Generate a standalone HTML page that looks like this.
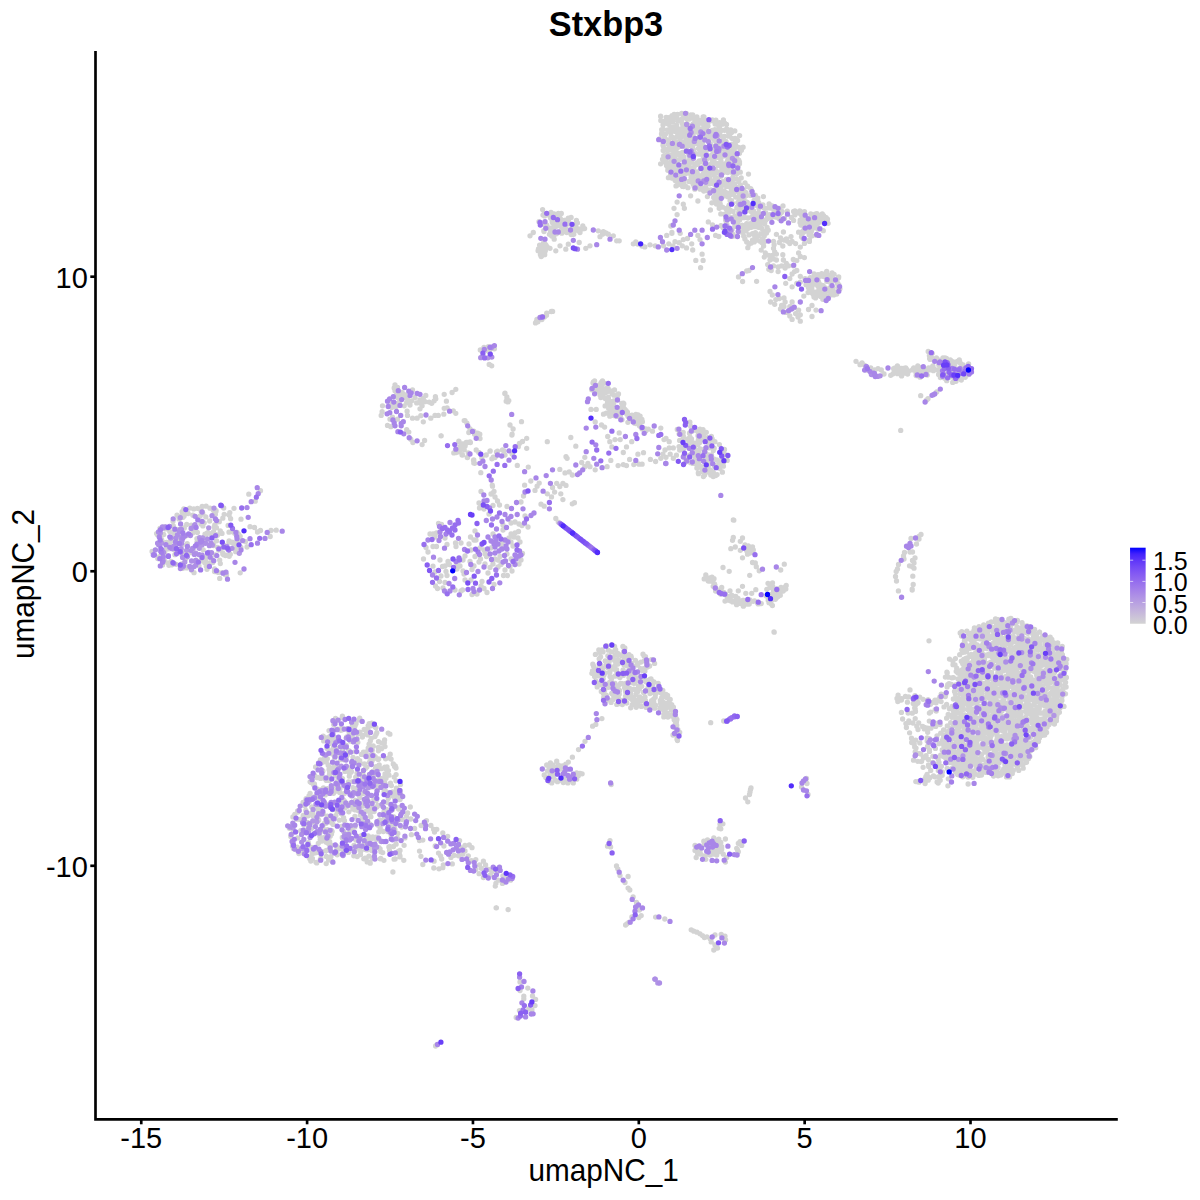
<!DOCTYPE html>
<html><head><meta charset="utf-8"><title>Stxbp3</title>
<style>
html,body{margin:0;padding:0;background:#fff;}
svg{display:block;font-family:"Liberation Sans",sans-serif;}
</style></head>
<body>
<svg width="1200" height="1200" viewBox="0 0 1200 1200">
<rect width="1200" height="1200" fill="#fff"/>
<defs><linearGradient id="lg" x1="0" y1="0" x2="0" y2="1"><stop offset="0.000" stop-color="#0000ff"/><stop offset="0.083" stop-color="#4322fc"/><stop offset="0.167" stop-color="#5e36f9"/><stop offset="0.250" stop-color="#7248f6"/><stop offset="0.333" stop-color="#8258f3"/><stop offset="0.417" stop-color="#9068ef"/><stop offset="0.500" stop-color="#9d77ec"/><stop offset="0.583" stop-color="#a886e8"/><stop offset="0.667" stop-color="#b296e4"/><stop offset="0.750" stop-color="#bba5e0"/><stop offset="0.833" stop-color="#c4b4dc"/><stop offset="0.917" stop-color="#ccc4d8"/><stop offset="1.000" stop-color="#d3d3d3"/></linearGradient></defs>
<g fill="none" stroke-width="5.3" stroke-linecap="round">
<path stroke="#d3d3d3" d="M672.0 115.6h.01M674.1 114.5h.01M677.5 114.3h.01M681.7 113.5h.01M686.5 113.6h.01M690.9 114.9h.01M692.7 114.9h.01M660.6 116.2h.01M666.1 117.3h.01M668.2 117.6h.01M672.0 119.3h.01M674.8 116.4h.01M678.8 120.7h.01M683.2 116.4h.01M685.6 115.2h.01M689.4 119.0h.01M691.3 117.8h.01M696.9 116.8h.01M703.1 117.0h.01M704.0 116.9h.01M660.8 120.5h.01M663.9 121.5h.01M665.9 120.7h.01M671.6 119.4h.01M676.9 118.0h.01M678.0 121.1h.01M681.4 120.3h.01M682.0 118.9h.01M687.0 118.9h.01M692.4 117.6h.01M694.9 120.5h.01M699.7 120.5h.01M702.4 120.2h.01M705.7 120.4h.01M710.0 121.0h.01M714.7 121.9h.01M715.9 120.2h.01M719.7 122.6h.01M663.7 122.7h.01M667.2 123.5h.01M668.8 122.3h.01M672.9 121.6h.01M676.6 125.5h.01M680.5 121.0h.01M682.0 123.1h.01M686.5 124.2h.01M687.3 124.2h.01M693.1 123.9h.01M697.7 125.0h.01M698.8 123.5h.01M702.6 120.8h.01M706.9 123.3h.01M712.3 119.9h.01M716.6 122.5h.01M719.8 125.5h.01M723.4 120.0h.01M724.5 123.0h.01M663.0 125.0h.01M669.1 124.5h.01M670.7 127.2h.01M673.8 126.6h.01M676.3 126.7h.01M682.8 125.5h.01M686.3 126.4h.01M688.7 125.5h.01M690.8 125.8h.01M695.5 125.6h.01M698.5 128.4h.01M702.6 123.4h.01M704.4 126.2h.01M708.0 125.9h.01M715.1 124.1h.01M718.7 125.4h.01M719.4 126.4h.01M722.3 124.2h.01M726.5 124.4h.01M663.1 129.1h.01M661.7 129.6h.01M667.7 129.9h.01M671.8 131.2h.01M675.9 129.4h.01M679.2 129.2h.01M683.8 129.2h.01M686.9 128.3h.01M692.2 128.0h.01M695.1 128.4h.01M699.0 130.0h.01M702.4 128.6h.01M704.5 128.9h.01M706.8 130.7h.01M712.3 130.4h.01M714.9 129.6h.01M717.4 131.3h.01M722.2 130.3h.01M727.3 129.5h.01M725.7 129.7h.01M730.8 129.9h.01M661.9 132.2h.01M668.4 130.5h.01M670.7 132.7h.01M674.4 131.3h.01M679.3 130.1h.01M681.5 133.4h.01M684.0 132.6h.01M687.5 132.0h.01M691.9 132.3h.01M694.5 132.3h.01M698.9 132.9h.01M703.5 132.5h.01M703.8 131.9h.01M710.4 131.4h.01M714.1 134.0h.01M717.8 129.9h.01M720.2 131.6h.01M724.6 130.3h.01M728.5 131.1h.01M731.1 132.4h.01M734.8 130.9h.01M661.5 134.0h.01M665.7 133.8h.01M671.1 136.2h.01M672.5 137.4h.01M677.7 135.1h.01M678.8 133.3h.01M683.8 135.7h.01M686.1 136.9h.01M689.9 137.3h.01M693.3 136.8h.01M699.2 137.2h.01M700.9 135.2h.01M705.6 135.0h.01M708.5 135.0h.01M708.0 134.8h.01M712.0 135.2h.01M719.4 134.4h.01M720.2 135.4h.01M724.5 136.3h.01M728.7 132.8h.01M731.5 132.6h.01M731.9 138.3h.01M659.5 138.8h.01M664.5 137.4h.01M667.3 139.9h.01M673.5 137.6h.01M677.1 136.8h.01M679.9 139.0h.01M680.8 137.5h.01M685.9 139.4h.01M688.2 134.8h.01M691.4 139.9h.01M695.9 139.1h.01M699.4 141.1h.01M703.0 139.0h.01M706.7 138.9h.01M711.1 137.0h.01M711.7 138.2h.01M715.8 141.7h.01M718.1 136.5h.01M723.4 139.7h.01M728.5 136.2h.01M729.7 135.7h.01M735.2 138.4h.01M739.6 135.6h.01M663.1 142.7h.01M665.3 139.5h.01M668.8 141.3h.01M674.3 140.5h.01M676.1 143.2h.01M681.1 142.1h.01M683.5 143.1h.01M683.5 142.2h.01M689.2 141.5h.01M693.4 140.3h.01M696.5 140.2h.01M701.5 141.0h.01M702.4 142.3h.01M707.6 139.9h.01M710.3 143.6h.01M714.7 140.3h.01M718.5 142.2h.01M722.4 141.2h.01M725.9 141.3h.01M726.5 143.1h.01M735.2 141.3h.01M737.6 140.5h.01M663.0 145.3h.01M668.5 144.4h.01M673.3 146.8h.01M675.5 142.2h.01M676.7 144.6h.01M679.6 146.5h.01M685.8 142.4h.01M691.1 145.5h.01M692.9 143.7h.01M694.7 143.7h.01M698.9 144.5h.01M700.3 142.1h.01M702.7 144.9h.01M709.4 145.8h.01M713.9 146.6h.01M716.7 142.7h.01M718.5 146.2h.01M723.4 143.4h.01M725.8 144.1h.01M731.4 144.3h.01M731.9 144.4h.01M735.8 145.3h.01M663.3 145.9h.01M665.2 149.1h.01M669.5 148.4h.01M673.9 146.3h.01M677.7 147.4h.01M677.4 144.2h.01M684.2 145.2h.01M686.5 148.1h.01M687.6 146.0h.01M692.7 147.8h.01M698.5 148.5h.01M700.2 148.0h.01M702.6 146.4h.01M706.8 149.2h.01M711.8 149.7h.01M715.7 148.2h.01M718.8 147.9h.01M721.4 148.5h.01M724.1 147.0h.01M729.9 147.4h.01M732.2 147.6h.01M736.2 146.3h.01M739.3 147.6h.01M743.1 147.2h.01M663.2 150.5h.01M668.0 150.2h.01M671.8 150.3h.01M675.9 150.3h.01M675.8 152.3h.01M682.6 152.4h.01M686.3 148.5h.01M687.1 151.4h.01M692.0 152.6h.01M693.4 149.7h.01M700.2 151.7h.01M701.9 151.8h.01M705.2 149.3h.01M708.3 149.5h.01M713.2 149.1h.01M717.0 150.9h.01M718.5 151.0h.01M725.3 151.5h.01M728.4 151.0h.01M732.1 152.4h.01M734.3 149.7h.01M740.2 149.7h.01M741.4 150.3h.01M663.7 155.8h.01M666.6 154.7h.01M669.0 155.1h.01M673.0 154.2h.01M676.8 153.0h.01M677.9 153.2h.01M681.6 152.9h.01M688.5 153.4h.01M689.8 157.5h.01M693.8 152.1h.01M699.5 154.2h.01M702.4 153.3h.01M704.5 153.5h.01M706.2 154.2h.01M711.4 155.4h.01M714.3 154.0h.01M716.7 152.6h.01M721.0 153.6h.01M725.5 154.0h.01M728.9 152.2h.01M731.1 152.2h.01M732.8 154.6h.01M739.5 153.3h.01M664.0 157.0h.01M664.5 155.6h.01M669.7 155.6h.01M674.9 157.5h.01M679.7 155.1h.01M682.6 154.8h.01M684.0 156.8h.01M689.6 156.8h.01M693.1 154.9h.01M693.3 157.4h.01M696.8 153.9h.01M703.4 156.6h.01M707.9 155.8h.01M709.0 157.4h.01M712.2 154.7h.01M717.5 154.8h.01M719.6 154.9h.01M723.0 156.2h.01M727.5 156.7h.01M730.6 156.8h.01M732.6 155.1h.01M736.4 155.9h.01M662.5 159.3h.01M666.2 159.4h.01M671.6 160.1h.01M673.5 157.9h.01M678.0 160.8h.01M679.4 159.7h.01M682.9 158.4h.01M684.1 159.5h.01M689.0 160.3h.01M693.2 158.0h.01M699.2 160.9h.01M701.3 161.7h.01M702.7 159.7h.01M706.5 159.6h.01M712.2 159.2h.01M714.0 159.6h.01M718.6 157.6h.01M720.9 160.6h.01M727.5 161.0h.01M728.4 162.4h.01M732.9 158.9h.01M735.7 157.4h.01M738.8 160.2h.01M663.9 161.8h.01M666.8 162.3h.01M671.0 163.5h.01M674.8 162.0h.01M677.2 164.0h.01M682.7 165.9h.01M685.5 162.5h.01M689.0 160.6h.01M691.5 162.1h.01M696.7 162.9h.01M697.1 162.6h.01M701.4 161.8h.01M704.4 163.3h.01M709.7 164.7h.01M712.1 160.2h.01M715.3 162.9h.01M717.9 163.7h.01M723.4 164.0h.01M725.3 163.7h.01M729.1 160.7h.01M734.3 162.6h.01M738.0 159.6h.01M739.5 161.9h.01M660.6 163.8h.01M666.5 165.4h.01M669.2 165.0h.01M673.6 166.0h.01M675.0 166.3h.01M679.6 166.6h.01M682.3 165.5h.01M686.8 166.3h.01M689.2 164.5h.01M694.8 165.4h.01M697.8 164.3h.01M702.4 167.4h.01M704.0 166.9h.01M707.7 165.7h.01M711.2 166.7h.01M713.4 164.2h.01M718.4 165.3h.01M721.8 164.9h.01M725.4 165.7h.01M728.7 166.2h.01M732.4 164.5h.01M735.9 164.9h.01M739.5 163.7h.01M667.9 167.9h.01M670.8 167.3h.01M674.3 169.6h.01M679.3 169.2h.01M679.8 168.7h.01M685.7 167.4h.01M689.1 167.6h.01M693.6 169.5h.01M693.9 167.4h.01M700.5 168.5h.01M704.4 169.1h.01M706.7 167.7h.01M709.5 167.8h.01M710.6 167.9h.01M715.2 169.5h.01M721.8 168.4h.01M723.0 169.7h.01M727.0 168.3h.01M730.0 168.6h.01M735.0 171.4h.01M738.1 165.9h.01M667.8 170.3h.01M673.1 173.6h.01M676.8 172.2h.01M681.3 170.7h.01M683.5 170.1h.01M685.7 172.2h.01M690.6 171.5h.01M695.4 173.3h.01M697.0 171.8h.01M704.0 170.3h.01M705.7 172.8h.01M707.8 171.7h.01M711.7 171.6h.01M716.7 171.9h.01M718.3 172.1h.01M723.0 170.0h.01M724.8 170.3h.01M730.7 171.2h.01M730.8 169.8h.01M735.6 170.9h.01M740.3 172.2h.01M670.6 174.1h.01M673.3 173.3h.01M678.6 171.7h.01M681.3 175.2h.01M685.5 173.7h.01M689.3 173.2h.01M692.9 173.9h.01M697.3 173.3h.01M698.8 176.1h.01M702.7 174.5h.01M707.1 173.5h.01M710.1 172.9h.01M714.3 175.6h.01M716.4 171.7h.01M719.3 173.4h.01M723.4 172.4h.01M727.7 172.6h.01M732.6 173.1h.01M733.2 174.3h.01M737.0 173.6h.01M668.4 177.7h.01M672.2 178.2h.01M677.1 179.2h.01M680.0 177.8h.01M681.5 177.9h.01M683.9 179.2h.01M691.1 177.5h.01M693.9 178.3h.01M698.2 176.7h.01M702.3 178.5h.01M705.1 177.5h.01M709.5 177.2h.01M713.0 180.6h.01M715.6 178.0h.01M720.2 176.4h.01M721.2 176.0h.01M726.5 179.5h.01M728.1 179.4h.01M731.7 178.7h.01M736.1 178.6h.01M741.2 177.9h.01M675.2 180.4h.01M678.5 180.3h.01M683.7 179.7h.01M683.6 182.8h.01M689.0 181.5h.01M691.2 180.6h.01M694.8 181.2h.01M698.5 181.5h.01M702.9 180.4h.01M707.4 179.6h.01M709.2 181.8h.01M717.5 180.5h.01M715.7 183.5h.01M718.9 184.3h.01M723.0 181.4h.01M726.1 180.7h.01M730.8 182.5h.01M734.2 178.8h.01M738.9 181.7h.01M676.7 185.5h.01M678.9 183.4h.01M681.4 185.0h.01M685.4 186.0h.01M693.0 184.1h.01M693.6 184.7h.01M697.8 184.9h.01M699.3 183.7h.01M703.6 181.5h.01M707.4 182.6h.01M713.4 181.5h.01M713.1 183.5h.01M718.3 184.6h.01M721.8 183.5h.01M725.3 184.1h.01M726.7 183.5h.01M732.1 183.4h.01M734.6 183.8h.01M740.3 185.1h.01M676.0 185.9h.01M682.6 186.4h.01M683.6 186.6h.01M687.9 187.7h.01M694.2 186.6h.01M695.7 186.5h.01M699.8 186.5h.01M701.4 188.1h.01M705.7 186.9h.01M709.9 183.8h.01M714.9 185.1h.01M716.2 188.8h.01M721.5 186.0h.01M720.5 188.2h.01M726.5 186.3h.01M729.4 186.8h.01M734.3 187.4h.01M736.5 187.5h.01M694.8 189.2h.01M700.2 189.2h.01M702.5 189.4h.01M707.7 190.8h.01M711.0 189.8h.01M714.8 191.5h.01M719.3 189.8h.01M724.1 191.0h.01M724.1 190.8h.01M729.2 193.1h.01M731.5 190.9h.01M703.8 191.0h.01M705.8 190.7h.01M708.7 190.1h.01M715.1 193.0h.01M718.1 192.5h.01M721.2 191.6h.01M721.4 193.5h.01M725.7 192.5h.01M731.3 191.7h.01M707.4 196.6h.01M713.7 197.5h.01M716.4 193.2h.01M718.3 195.9h.01M718.7 196.0h.01M726.7 195.9h.01M727.7 196.7h.01M714.8 198.4h.01M715.5 199.9h.01M722.4 196.7h.01M748.5 174.1h.01M745.0 182.8h.01M741.0 187.6h.01M747.4 186.7h.01M747.6 186.2h.01M734.9 191.0h.01M740.2 189.5h.01M743.6 190.3h.01M750.7 188.6h.01M751.5 190.2h.01M730.4 193.3h.01M733.7 194.5h.01M738.4 191.8h.01M742.7 192.8h.01M745.6 192.4h.01M746.0 192.6h.01M755.2 195.1h.01M715.8 195.4h.01M721.9 197.0h.01M723.1 195.9h.01M729.2 195.7h.01M729.9 195.1h.01M735.7 197.1h.01M739.6 195.2h.01M741.1 195.9h.01M746.6 195.5h.01M750.7 195.4h.01M757.8 198.1h.01M763.4 196.6h.01M711.9 202.8h.01M718.5 200.0h.01M720.3 199.8h.01M730.1 200.4h.01M739.4 200.2h.01M744.0 198.9h.01M747.3 202.3h.01M754.1 200.5h.01M757.8 200.4h.01M716.5 204.1h.01M720.2 203.9h.01M722.6 207.1h.01M729.1 205.2h.01M731.5 200.7h.01M732.6 203.3h.01M737.9 202.3h.01M743.6 205.7h.01M747.2 202.5h.01M754.9 203.2h.01M758.7 202.7h.01M762.9 204.8h.01M720.0 205.4h.01M726.0 208.7h.01M728.7 206.3h.01M737.3 206.9h.01M738.3 207.4h.01M741.9 208.2h.01M744.2 206.4h.01M749.7 205.8h.01M756.1 205.3h.01M760.4 206.5h.01M762.6 205.9h.01M719.2 208.3h.01M726.5 209.4h.01M727.1 210.9h.01M730.5 210.5h.01M736.8 207.8h.01M742.2 210.3h.01M748.0 207.8h.01M750.1 208.6h.01M752.9 212.8h.01M759.0 208.4h.01M764.2 208.1h.01M720.8 213.9h.01M725.0 214.6h.01M728.8 212.3h.01M733.1 211.4h.01M739.1 215.3h.01M738.7 212.5h.01M745.4 211.7h.01M750.7 211.3h.01M753.6 210.9h.01M756.2 213.6h.01M758.6 212.8h.01M765.8 212.9h.01M724.6 214.1h.01M726.6 217.4h.01M730.8 217.3h.01M734.9 216.0h.01M738.9 217.4h.01M744.5 217.2h.01M744.7 217.3h.01M751.9 216.6h.01M753.9 217.5h.01M757.3 217.3h.01M767.7 215.9h.01M725.6 220.0h.01M728.1 219.3h.01M735.1 219.8h.01M737.9 218.4h.01M739.6 220.1h.01M743.8 217.7h.01M747.9 218.0h.01M753.1 220.2h.01M756.6 219.9h.01M761.8 220.2h.01M765.7 220.2h.01M726.3 222.8h.01M726.9 224.2h.01M735.2 223.9h.01M737.6 222.3h.01M742.0 225.3h.01M746.7 223.7h.01M749.5 223.9h.01M752.7 224.6h.01M763.0 223.2h.01M720.9 225.7h.01M725.3 228.1h.01M726.7 227.0h.01M734.7 226.6h.01M737.5 225.7h.01M742.5 225.3h.01M723.0 227.7h.01M728.1 228.8h.01M732.0 229.7h.01M738.6 228.6h.01M726.0 233.1h.01M730.2 231.8h.01M732.7 234.2h.01M741.4 232.1h.01M732.7 236.2h.01M734.7 235.8h.01M776.5 209.5h.01M815.1 214.1h.01M814.3 219.1h.01M809.7 221.8h.01M824.7 219.5h.01M815.4 225.8h.01M828.1 223.3h.01M777.7 214.5h.01M808.5 220.7h.01M770.7 217.8h.01M820.4 221.9h.01M791.4 217.4h.01M770.1 208.0h.01M823.6 216.8h.01M781.9 211.5h.01M799.8 210.8h.01M767.7 218.4h.01M807.3 218.6h.01M822.7 216.2h.01M818.6 218.9h.01M823.1 220.1h.01M803.9 216.7h.01M801.4 212.4h.01M827.5 219.2h.01M802.5 222.0h.01M776.4 210.1h.01M777.4 209.6h.01M780.1 213.3h.01M806.2 222.0h.01M794.8 214.9h.01M817.7 217.8h.01M800.2 220.2h.01M770.6 208.1h.01M808.5 222.6h.01M787.3 211.2h.01M820.6 215.2h.01M774.1 210.9h.01M819.8 218.4h.01M817.0 224.0h.01M824.1 219.6h.01M810.7 217.7h.01M779.6 208.3h.01M774.5 209.3h.01M778.9 218.4h.01M819.0 215.8h.01M798.7 213.1h.01M801.9 212.0h.01M769.9 214.7h.01M810.8 213.9h.01M783.0 206.0h.01M776.3 208.3h.01M824.9 219.9h.01M811.9 218.6h.01M777.2 210.1h.01M772.1 205.9h.01M816.9 213.6h.01M801.7 215.4h.01M826.3 219.1h.01M817.9 223.2h.01M804.5 211.6h.01M823.6 215.7h.01M822.3 213.8h.01M771.8 217.2h.01M802.8 217.2h.01M794.9 211.0h.01M806.8 219.5h.01M779.9 210.4h.01M768.3 207.9h.01M826.2 217.7h.01M816.3 224.3h.01M800.0 222.6h.01M767.9 216.5h.01M818.6 222.5h.01M779.9 214.2h.01M812.7 223.0h.01M775.6 217.1h.01M769.1 203.9h.01M793.6 211.5h.01M814.0 221.2h.01M767.1 218.4h.01M793.6 220.4h.01M815.9 223.0h.01M781.5 212.5h.01M816.2 220.5h.01M784.5 218.5h.01M802.0 233.7h.01M809.0 241.0h.01M804.2 229.1h.01M802.6 231.4h.01M819.9 228.5h.01M805.1 228.3h.01M816.8 235.4h.01M809.2 226.6h.01M818.0 228.4h.01M806.4 231.1h.01M809.4 241.4h.01M818.0 229.0h.01M801.5 236.7h.01M802.9 225.0h.01M814.7 227.9h.01M809.4 239.8h.01M809.1 234.7h.01M806.3 230.7h.01M803.5 232.2h.01M809.5 225.8h.01M801.6 233.9h.01M800.8 225.1h.01M802.9 238.6h.01M805.3 226.2h.01M804.4 243.4h.01M811.5 231.0h.01M813.1 226.9h.01M798.6 232.2h.01M812.2 235.8h.01M823.3 230.7h.01M827.6 296.8h.01M821.7 275.2h.01M833.1 287.8h.01M820.4 290.5h.01M823.1 285.7h.01M823.7 299.4h.01M813.6 294.9h.01M817.4 282.8h.01M819.3 275.8h.01M815.1 284.1h.01M831.7 275.2h.01M824.8 287.7h.01M811.8 287.8h.01M820.6 296.4h.01M815.5 297.9h.01M816.2 279.4h.01M837.5 283.2h.01M836.7 294.1h.01M824.4 274.6h.01M829.8 287.9h.01M838.5 287.4h.01M831.0 278.5h.01M819.1 286.1h.01M808.3 292.3h.01M822.9 290.3h.01M806.0 284.7h.01M831.6 289.6h.01M814.2 283.5h.01M813.2 282.8h.01M838.6 277.8h.01M818.8 290.0h.01M810.3 277.6h.01M810.6 282.8h.01M808.5 287.7h.01M826.8 281.3h.01M821.7 276.2h.01M811.5 281.7h.01M833.7 294.9h.01M828.9 291.2h.01M812.8 293.0h.01M815.0 294.5h.01M827.2 276.9h.01M825.2 291.8h.01M812.0 291.0h.01M814.1 278.8h.01M817.9 286.0h.01M820.9 284.8h.01M828.5 291.0h.01M834.7 291.9h.01M823.7 276.6h.01M826.2 272.7h.01M831.0 282.2h.01M814.0 293.8h.01M809.1 287.9h.01M831.6 294.0h.01M814.1 273.9h.01M826.3 275.2h.01M827.0 274.3h.01M814.5 278.6h.01M825.2 291.8h.01M832.2 277.5h.01M829.1 290.8h.01M838.7 277.0h.01M829.9 278.6h.01M813.9 293.1h.01M834.8 280.0h.01M832.1 272.8h.01M824.5 275.5h.01M837.8 284.3h.01M810.0 285.6h.01M818.9 291.5h.01M834.1 274.3h.01M819.8 284.9h.01M830.1 277.5h.01M823.1 291.4h.01M819.3 283.9h.01M839.9 288.8h.01M822.3 289.3h.01M822.7 288.8h.01M808.1 292.5h.01M821.7 273.7h.01M807.5 279.4h.01M825.1 294.9h.01M812.0 292.9h.01M818.0 274.7h.01M815.1 292.2h.01M838.8 284.6h.01M827.8 279.4h.01M831.9 292.0h.01M818.0 278.3h.01M822.8 299.3h.01M837.0 280.4h.01M832.9 280.9h.01M821.0 294.5h.01M826.7 271.5h.01M827.9 296.7h.01M817.6 295.3h.01M815.4 281.6h.01M818.6 282.0h.01M814.0 297.0h.01M828.9 296.4h.01M814.6 297.3h.01M833.3 294.3h.01M829.7 282.0h.01M810.5 286.5h.01M743.7 227.9h.01M746.7 225.0h.01M750.2 223.8h.01M753.7 223.2h.01M757.7 222.7h.01M761.2 222.1h.01M764.7 223.8h.01M767.1 227.3h.01M768.2 230.2h.01M766.5 233.1h.01M764.2 236.1h.01M762.4 239.0h.01M760.1 241.3h.01M757.2 240.1h.01M754.2 241.9h.01M751.3 243.1h.01M749.0 244.2h.01M746.7 241.9h.01M744.9 239.0h.01M743.7 236.1h.01M743.2 232.0h.01M746.1 230.8h.01M747.8 228.5h.01M751.3 227.3h.01M754.8 226.7h.01M758.3 227.3h.01M761.8 228.5h.01M763.6 231.4h.01M760.7 233.7h.01M758.3 236.1h.01M754.8 236.6h.01M752.5 233.7h.01M755.4 232.6h.01M749.0 234.9h.01M760.1 225.0h.01M752.5 240.1h.01M765.3 241.3h.01M747.8 247.7h.01M761.8 242.5h.01M763.6 246.0h.01M761.2 250.1h.01M765.3 253.0h.01M768.8 255.3h.01M764.2 257.1h.01M770.0 260.0h.01M773.5 258.8h.01M776.4 260.0h.01M767.7 264.6h.01M771.2 270.5h.01M768.8 269.3h.01M773.5 265.8h.01M778.1 267.0h.01M781.6 265.8h.01M773.5 241.3h.01M774.1 244.8h.01M773.5 248.3h.01M774.7 251.8h.01M776.4 254.1h.01M772.3 255.3h.01M776.4 234.3h.01M783.4 232.0h.01M780.5 237.8h.01M784.0 240.1h.01M779.3 242.5h.01M782.8 246.0h.01M787.5 241.3h.01M791.0 236.6h.01M792.1 241.3h.01M795.6 243.6h.01M789.8 243.6h.01M786.3 239.0h.01M800.3 247.1h.01M798.6 253.0h.01M800.3 256.5h.01M804.4 257.6h.01M793.3 259.4h.01M796.8 260.6h.01M782.8 254.7h.01M783.4 260.0h.01M786.3 263.5h.01M788.6 265.8h.01M785.1 268.1h.01M778.1 271.6h.01M793.3 265.8h.01M796.8 270.5h.01M792.1 274.0h.01M794.5 271.6h.01M789.8 278.6h.01M785.7 283.3h.01M792.1 286.8h.01M800.3 276.3h.01M805.0 278.6h.01M800.3 282.1h.01M796.8 283.3h.01M803.8 296.1h.01M770.0 291.5h.01M772.3 295.0h.01M770.6 302.0h.01M774.7 304.3h.01M775.8 299.6h.01M779.3 298.5h.01M784.0 297.9h.01M785.1 302.0h.01M781.6 305.5h.01M780.5 309.0h.01M786.3 312.4h.01M789.8 315.9h.01M792.1 319.4h.01M795.6 313.6h.01M798.6 310.1h.01M800.3 314.8h.01M800.3 321.2h.01M794.5 307.8h.01M792.1 302.0h.01M784.0 306.6h.01M789.8 306.6h.01M798.0 317.1h.01M808.5 309.5h.01M812.0 305.5h.01M816.0 310.1h.01M812.0 316.5h.01M746.7 271.0h.01M749.0 270.5h.01M738.5 276.9h.01M742.6 281.5h.01M756.6 281.3h.01M677.1 202.1h.01M674.0 208.3h.01M683.3 204.2h.01M684.4 208.3h.01M677.1 214.6h.01M670.8 226.0h.01M690.6 195.8h.01M697.9 201.0h.01M710.4 210.0h.01M708.3 221.9h.01M712.5 225.0h.01M680.2 233.3h.01M671.9 232.3h.01M633.3 243.8h.01M644.8 246.9h.01M650.0 244.8h.01M655.2 245.8h.01M668.8 243.8h.01M675.0 241.7h.01M671.9 233.3h.01M666.7 235.4h.01M683.3 239.6h.01M687.5 238.5h.01M691.7 243.8h.01M686.5 247.9h.01M692.7 250.0h.01M697.9 235.4h.01M700.0 239.6h.01M702.1 254.2h.01M695.8 260.4h.01M703.1 260.4h.01M700.6 267.7h.01M715.6 235.4h.01M718.8 236.5h.01M679.2 242.7h.01M682.3 245.8h.01M663.5 245.8h.01M672.9 245.8h.01M579.1 230.9h.01M573.8 226.7h.01M563.4 222.4h.01M554.2 216.6h.01M560.3 218.4h.01M566.8 232.6h.01M551.9 231.7h.01M577.4 223.0h.01M555.8 218.8h.01M566.1 220.1h.01M563.0 229.9h.01M574.2 231.5h.01M557.9 218.0h.01M551.7 217.8h.01M562.8 228.1h.01M565.3 231.3h.01M573.6 232.9h.01M539.0 221.7h.01M561.8 233.2h.01M576.4 220.3h.01M557.4 222.9h.01M553.7 227.4h.01M561.3 213.5h.01M565.9 226.9h.01M550.5 230.9h.01M560.3 226.0h.01M549.3 215.6h.01M551.9 214.3h.01M552.8 223.3h.01M546.8 225.1h.01M571.2 234.5h.01M554.0 227.5h.01M578.5 229.0h.01M556.5 221.7h.01M573.8 234.3h.01M575.9 224.2h.01M564.3 220.4h.01M552.2 222.0h.01M555.1 222.9h.01M552.3 218.9h.01M554.2 220.9h.01M550.6 217.9h.01M544.5 215.9h.01M573.5 232.5h.01M558.4 213.4h.01M574.5 224.9h.01M542.6 209.6h.01M544.0 213.9h.01M554.1 234.8h.01M549.4 234.3h.01M545.0 214.7h.01M563.9 227.2h.01M566.1 220.6h.01M557.4 232.4h.01M543.0 215.1h.01M576.7 229.6h.01M556.3 226.3h.01M582.8 226.0h.01M582.2 228.5h.01M571.1 217.4h.01M544.0 231.5h.01M575.5 223.8h.01M551.0 212.3h.01M549.3 228.0h.01M568.3 218.1h.01M565.3 229.4h.01M556.4 233.8h.01M545.9 227.7h.01M568.5 220.7h.01M580.0 232.5h.01M571.7 229.6h.01M543.8 230.7h.01M554.2 213.8h.01M549.5 234.3h.01M584.6 228.6h.01M581.9 229.1h.01M561.4 230.2h.01M570.5 224.1h.01M560.1 223.0h.01M575.5 226.0h.01M544.4 224.4h.01M546.7 214.1h.01M583.0 228.4h.01M563.5 231.0h.01M551.7 236.1h.01M538.1 250.7h.01M543.1 244.7h.01M544.7 252.6h.01M538.5 249.0h.01M541.1 251.0h.01M542.2 255.6h.01M540.0 245.5h.01M540.7 255.3h.01M541.2 256.5h.01M545.0 243.9h.01M545.5 246.8h.01M541.6 252.3h.01M544.2 252.1h.01M545.3 250.7h.01M547.0 246.6h.01M539.6 245.1h.01M546.0 245.2h.01M543.7 250.8h.01M543.4 243.2h.01M542.2 246.3h.01M540.4 254.5h.01M538.9 249.7h.01M541.4 253.7h.01M544.7 254.7h.01M530.0 235.8h.01M533.3 232.5h.01M554.2 239.2h.01M579.2 242.5h.01M568.3 244.2h.01M560.0 245.8h.01M555.8 250.8h.01M565.8 249.2h.01M550.0 248.3h.01M585.8 248.3h.01M590.0 245.8h.01M598.3 230.8h.01M603.3 231.7h.01M608.3 234.2h.01M613.3 235.8h.01M600.0 236.7h.01M616.7 240.8h.01M619.2 240.8h.01M605.8 233.0h.01M602.5 234.2h.01M635.8 242.0h.01M642.0 246.0h.01M637.7 244.0h.01M544.4 317.0h.01M536.3 321.7h.01M541.9 319.5h.01M541.1 319.4h.01M551.3 311.5h.01M541.2 319.0h.01M546.7 313.2h.01M537.9 321.8h.01M546.5 315.3h.01M544.1 317.1h.01M537.3 321.7h.01M536.9 319.4h.01M542.1 316.7h.01M535.5 322.9h.01M541.9 317.5h.01M552.6 311.4h.01M856.0 361.3h.01M860.0 364.7h.01M864.7 365.3h.01M870.7 368.0h.01M874.7 370.0h.01M878.0 368.7h.01M881.3 370.0h.01M884.0 374.0h.01M890.7 375.3h.01M866.7 370.0h.01M862.0 362.9h.01M872.7 370.7h.01M907.6 374.0h.01M901.6 375.9h.01M908.4 371.6h.01M900.3 370.8h.01M897.6 371.0h.01M894.8 368.6h.01M900.1 370.1h.01M894.1 371.3h.01M905.0 373.1h.01M900.3 368.3h.01M900.2 369.6h.01M898.2 373.2h.01M899.7 373.4h.01M899.1 369.4h.01M897.4 373.7h.01M894.5 368.1h.01M902.9 372.8h.01M903.6 368.5h.01M897.4 365.9h.01M900.5 372.7h.01M905.7 368.0h.01M892.7 374.1h.01M899.8 369.5h.01M899.8 373.2h.01M898.9 370.1h.01M893.6 368.6h.01M906.6 369.1h.01M907.3 370.2h.01M905.1 369.6h.01M907.5 370.3h.01M901.8 368.3h.01M897.9 369.6h.01M918.8 374.5h.01M924.9 372.8h.01M923.6 368.9h.01M916.0 372.4h.01M917.8 365.8h.01M924.2 372.6h.01M913.8 367.9h.01M919.7 369.7h.01M916.1 375.6h.01M923.1 369.9h.01M927.3 375.1h.01M926.9 371.1h.01M912.4 369.9h.01M923.8 374.7h.01M922.3 370.0h.01M913.4 368.5h.01M920.1 377.2h.01M920.6 367.9h.01M918.7 370.5h.01M917.1 373.8h.01M921.5 371.3h.01M928.6 367.8h.01M918.5 369.4h.01M922.6 368.7h.01M930.4 369.8h.01M924.5 371.7h.01M917.9 375.5h.01M919.7 376.8h.01M919.4 367.3h.01M924.6 370.7h.01M947.6 376.4h.01M957.9 371.2h.01M933.4 370.7h.01M932.9 366.0h.01M948.6 370.2h.01M951.2 370.0h.01M945.2 376.1h.01M963.3 371.7h.01M964.5 367.9h.01M964.2 371.1h.01M928.2 351.5h.01M938.8 359.8h.01M950.5 370.0h.01M946.7 375.2h.01M938.6 374.4h.01M942.1 366.2h.01M960.1 378.3h.01M959.8 370.7h.01M968.6 364.0h.01M959.0 361.2h.01M954.7 364.8h.01M964.7 367.1h.01M965.1 375.1h.01M943.6 366.6h.01M934.2 368.8h.01M946.5 366.2h.01M961.1 367.9h.01M939.5 373.7h.01M943.5 366.1h.01M929.6 358.4h.01M939.7 364.0h.01M931.4 357.3h.01M957.9 375.8h.01M960.6 363.6h.01M949.0 363.1h.01M944.7 378.3h.01M947.3 368.5h.01M955.6 377.1h.01M958.7 373.9h.01M946.8 359.7h.01M950.5 377.0h.01M959.8 361.9h.01M950.3 359.9h.01M940.2 371.2h.01M945.4 374.7h.01M951.8 363.8h.01M939.6 368.8h.01M930.2 359.4h.01M929.4 355.5h.01M944.8 357.8h.01M954.4 378.3h.01M952.9 373.2h.01M946.4 358.3h.01M962.5 365.9h.01M949.1 372.9h.01M963.8 370.3h.01M965.1 369.0h.01M938.0 370.1h.01M956.3 372.6h.01M943.7 362.8h.01M956.3 362.1h.01M946.8 377.4h.01M963.1 365.0h.01M965.2 377.3h.01M940.4 377.5h.01M936.4 358.0h.01M952.5 366.1h.01M959.0 376.1h.01M931.8 367.3h.01M959.0 368.6h.01M951.0 360.7h.01M940.6 373.7h.01M968.7 374.6h.01M954.5 376.3h.01M932.2 353.3h.01M962.4 371.1h.01M946.1 377.8h.01M938.8 365.0h.01M940.9 370.0h.01M964.4 373.7h.01M943.0 357.9h.01M942.7 365.5h.01M962.8 369.9h.01M952.8 361.7h.01M941.8 368.1h.01M946.7 380.7h.01M952.7 382.4h.01M956.0 381.3h.01M959.3 360.0h.01M957.3 361.3h.01M961.3 380.0h.01M920.7 395.7h.01M928.0 398.7h.01M926.7 400.0h.01M936.7 392.0h.01M900.7 430.4h.01M490.5 349.1h.01M487.8 350.8h.01M484.0 347.3h.01M483.1 356.1h.01M489.4 351.8h.01M480.3 350.0h.01M488.4 346.6h.01M494.4 348.8h.01M489.2 364.4h.01M491.7 365.8h.01M395.0 385.0h.01M394.2 387.9h.01M402.1 392.5h.01M405.0 395.0h.01M396.7 394.2h.01M412.5 390.0h.01M415.0 397.5h.01M411.7 400.8h.01M406.7 402.5h.01M410.0 405.0h.01M404.2 405.8h.01M416.7 402.9h.01M420.0 400.0h.01M423.3 398.3h.01M425.8 395.4h.01M420.8 403.3h.01M422.1 405.8h.01M420.0 408.8h.01M425.0 401.7h.01M429.2 402.1h.01M431.7 403.3h.01M434.2 400.8h.01M435.4 396.7h.01M435.8 398.8h.01M382.5 405.8h.01M393.3 405.8h.01M395.0 403.3h.01M382.1 411.7h.01M381.2 415.4h.01M392.5 417.1h.01M390.0 419.2h.01M387.5 425.4h.01M390.8 426.7h.01M407.1 411.2h.01M407.5 415.4h.01M412.5 418.2h.01M417.1 418.2h.01M420.8 415.7h.01M423.3 421.8h.01M430.8 418.2h.01M435.0 415.4h.01M438.3 415.4h.01M443.8 414.2h.01M444.2 408.3h.01M447.1 407.9h.01M453.3 410.8h.01M455.8 413.3h.01M444.2 394.3h.01M446.4 401.2h.01M452.1 392.5h.01M455.8 389.3h.01M406.7 429.6h.01M408.8 432.1h.01M410.8 439.2h.01M412.9 442.5h.01M422.1 444.6h.01M424.6 440.4h.01M441.0 435.8h.01M397.5 397.5h.01M391.7 407.5h.01M397.5 419.2h.01M464.2 420.6h.01M479.8 434.2h.01M466.2 442.5h.01M470.4 442.5h.01M459.0 441.5h.01M441.2 435.8h.01M474.6 434.2h.01M460.0 446.7h.01M464.2 449.8h.01M468.3 452.9h.01M462.1 455.0h.01M453.8 452.9h.01M467.3 457.5h.01M457.9 451.9h.01M465.2 445.6h.01M473.5 460.2h.01M474.6 463.3h.01M481.9 458.1h.01M490.2 450.8h.01M493.3 457.1h.01M496.5 451.9h.01M503.8 450.8h.01M480.8 472.7h.01M517.3 465.4h.01M528.3 467.1h.01M512.1 454.0h.01M518.3 446.7h.01M504.8 393.5h.01M506.9 397.7h.01M507.9 401.9h.01M521.5 421.7h.01M510.0 424.8h.01M513.1 429.0h.01M512.1 434.2h.01M526.7 438.3h.01M522.5 441.5h.01M519.4 443.5h.01M526.7 448.3h.01M492.3 485.2h.01M524.6 485.2h.01M530.8 481.0h.01M539.2 483.1h.01M537.1 486.2h.01M535.0 490.4h.01M555.8 518.5h.01M558.3 522.1h.01M438.5 523.5h.01M430.0 534.0h.01M433.0 534.0h.01M436.5 533.0h.01M426.0 547.5h.01M433.0 546.5h.01M436.5 546.5h.01M447.0 544.5h.01M455.5 543.0h.01M456.0 546.5h.01M461.0 543.0h.01M470.5 537.0h.01M475.0 531.0h.01M474.0 540.0h.01M469.0 544.0h.01M476.0 540.0h.01M465.0 556.0h.01M475.0 556.5h.01M480.5 559.0h.01M470.0 561.5h.01M474.0 566.0h.01M472.0 569.5h.01M463.0 571.0h.01M464.0 574.0h.01M485.0 564.0h.01M490.0 567.5h.01M486.5 556.5h.01M484.0 550.0h.01M423.5 559.0h.01M433.0 566.2h.01M442.5 566.5h.01M448.0 561.5h.01M449.5 564.5h.01M457.0 564.0h.01M457.0 569.0h.01M446.0 571.5h.01M447.0 575.5h.01M439.5 581.5h.01M445.0 582.5h.01M437.5 588.5h.01M435.5 586.0h.01M455.0 590.0h.01M461.0 591.0h.01M462.5 590.0h.01M472.0 594.5h.01M482.0 581.5h.01M484.0 588.5h.01M487.0 592.5h.01M494.0 584.5h.01M503.5 575.5h.01M507.5 575.5h.01M512.0 571.0h.01M510.0 566.5h.01M519.0 564.0h.01M521.0 560.0h.01M522.5 553.5h.01M520.0 542.0h.01M518.0 538.0h.01M511.0 534.0h.01M514.0 537.0h.01M515.0 533.0h.01M518.5 531.5h.01M509.0 538.0h.01M503.0 530.0h.01M501.0 546.0h.01M495.0 559.0h.01M498.0 560.0h.01M501.0 564.5h.01M500.0 556.5h.01M493.0 564.0h.01M493.0 534.0h.01M481.0 491.5h.01M491.0 494.0h.01M494.0 491.5h.01M495.0 497.0h.01M497.5 501.0h.01M499.5 505.0h.01M479.0 503.0h.01M479.5 508.0h.01M484.0 509.0h.01M493.0 505.5h.01M489.0 514.0h.01M507.0 506.5h.01M521.0 502.0h.01M523.5 496.0h.01M525.0 516.0h.01M515.0 522.0h.01M519.0 524.0h.01M522.0 525.5h.01M528.0 527.0h.01M503.0 525.0h.01M511.0 523.0h.01M441.5 524.5h.01M435.0 537.0h.01M445.0 538.0h.01M428.0 552.0h.01M440.0 560.0h.01M445.0 566.0h.01M435.0 572.0h.01M441.0 576.0h.01M443.0 588.0h.01M465.0 580.0h.01M471.0 580.0h.01M477.0 594.0h.01M481.0 586.0h.01M488.0 573.0h.01M498.0 567.0h.01M505.0 570.0h.01M511.0 559.0h.01M507.0 554.0h.01M513.0 546.0h.01M511.0 542.0h.01M502.0 543.0h.01M491.0 548.0h.01M485.0 554.0h.01M480.0 548.0h.01M471.0 550.0h.01M463.0 560.0h.01M460.0 566.0h.01M479.0 562.0h.01M605.2 392.8h.01M623.0 404.2h.01M642.4 421.7h.01M641.8 428.5h.01M609.9 407.0h.01M596.2 388.6h.01M608.9 402.6h.01M633.4 420.0h.01M638.1 414.8h.01M630.5 419.0h.01M614.6 412.5h.01M591.8 389.5h.01M627.4 412.1h.01M637.8 420.4h.01M613.9 395.2h.01M619.5 408.4h.01M608.4 398.1h.01M639.9 417.4h.01M620.0 412.3h.01M635.9 423.5h.01M631.9 415.2h.01M626.1 410.7h.01M613.7 403.1h.01M613.8 400.9h.01M615.2 411.7h.01M606.5 405.4h.01M612.0 393.8h.01M614.5 389.9h.01M635.9 414.5h.01M623.4 403.2h.01M610.9 410.7h.01M613.8 413.3h.01M618.5 394.0h.01M599.0 391.6h.01M613.1 405.0h.01M620.3 416.4h.01M605.0 392.7h.01M603.2 396.3h.01M635.0 418.4h.01M591.8 389.8h.01M623.8 403.7h.01M628.1 416.6h.01M596.8 390.4h.01M622.0 419.7h.01M607.4 387.7h.01M627.9 422.3h.01M608.2 388.6h.01M612.3 409.3h.01M642.3 427.3h.01M607.5 402.2h.01M634.7 423.2h.01M632.4 416.9h.01M608.5 407.9h.01M637.0 420.2h.01M639.6 422.9h.01M621.4 408.6h.01M593.4 381.9h.01M641.9 419.5h.01M640.1 416.1h.01M592.8 388.5h.01M605.1 405.9h.01M622.1 404.1h.01M645.8 430.9h.01M601.2 382.4h.01M621.8 412.0h.01M617.2 396.9h.01M639.6 426.0h.01M608.9 413.4h.01M608.1 391.3h.01M604.1 383.1h.01M610.1 412.9h.01M610.0 411.6h.01M610.7 390.9h.01M645.7 429.0h.01M612.9 410.6h.01M622.9 403.9h.01M608.2 397.3h.01M616.6 416.4h.01M615.6 411.7h.01M607.1 392.1h.01M613.7 415.5h.01M606.9 406.0h.01M593.0 383.0h.01M624.9 409.4h.01M605.3 398.6h.01M606.3 413.1h.01M611.7 407.9h.01M642.1 429.0h.01M626.8 413.9h.01M609.7 401.2h.01M591.0 409.4h.01M596.2 409.4h.01M603.5 414.2h.01M609.8 416.2h.01M595.2 421.9h.01M601.5 425.0h.01M604.6 427.1h.01M619.2 432.9h.01M631.7 441.7h.01M626.5 446.9h.01M620.2 439.6h.01M615.0 439.6h.01M607.7 436.5h.01M609.8 441.7h.01M611.9 446.9h.01M623.3 452.5h.01M607.1 466.7h.01M610.8 460.4h.01M637.9 454.2h.01M643.5 452.7h.01M629.6 459.4h.01M623.3 464.6h.01M618.1 465.6h.01M626.5 465.6h.01M633.8 464.6h.01M639.0 464.2h.01M642.1 464.2h.01M650.4 459.4h.01M655.6 461.5h.01M660.8 428.1h.01M666.0 438.5h.01M669.2 447.9h.01M666.0 457.3h.01M673.3 447.9h.01M648.3 429.2h.01M652.5 431.2h.01M664.0 439.6h.01M670.2 454.2h.01M673.3 458.3h.01M669.2 441.7h.01M662.9 454.2h.01M660.8 458.3h.01M665.0 450.0h.01M698.3 472.9h.01M704.6 475.0h.01M710.8 475.0h.01M717.1 474.6h.01M722.3 471.9h.01M706.7 471.9h.01M712.9 471.9h.01M689.9 422.2h.01M690.8 426.4h.01M677.3 429.4h.01M683.2 432.3h.01M692.5 431.1h.01M699.9 429.2h.01M703.0 429.6h.01M679.1 433.8h.01M682.9 432.6h.01M689.5 433.2h.01M697.5 431.3h.01M702.7 432.3h.01M706.3 432.3h.01M683.3 436.0h.01M690.0 437.1h.01M698.0 435.7h.01M701.3 434.6h.01M703.5 434.8h.01M706.5 438.9h.01M711.4 436.4h.01M679.6 440.4h.01M683.1 438.5h.01M687.2 439.1h.01M691.5 439.0h.01M698.3 439.9h.01M701.9 439.6h.01M707.7 437.7h.01M709.5 437.9h.01M712.2 438.8h.01M688.9 442.5h.01M691.8 443.7h.01M694.7 443.2h.01M699.7 442.5h.01M708.7 443.0h.01M712.1 440.2h.01M714.9 441.7h.01M679.0 446.6h.01M683.4 446.3h.01M687.1 446.1h.01M690.6 447.3h.01M695.2 444.7h.01M697.9 444.4h.01M710.2 445.3h.01M719.4 444.6h.01M680.5 448.6h.01M683.6 448.4h.01M689.1 448.3h.01M695.1 448.8h.01M700.2 448.8h.01M704.3 449.5h.01M708.7 447.9h.01M711.2 446.2h.01M714.2 448.2h.01M724.5 449.5h.01M679.7 450.1h.01M684.8 453.8h.01M690.2 454.9h.01M695.0 453.9h.01M698.9 451.7h.01M704.3 452.9h.01M705.3 452.8h.01M713.3 450.6h.01M721.9 453.0h.01M724.1 453.2h.01M676.4 455.2h.01M684.8 455.9h.01M688.2 456.2h.01M696.8 453.8h.01M698.6 457.7h.01M704.5 456.4h.01M708.6 454.9h.01M711.5 454.8h.01M724.8 454.6h.01M683.7 455.9h.01M686.6 459.8h.01M695.1 458.2h.01M701.3 460.3h.01M706.8 459.4h.01M709.0 459.8h.01M713.8 458.8h.01M716.8 460.0h.01M721.8 459.6h.01M723.3 459.6h.01M685.1 462.6h.01M690.6 462.7h.01M696.8 460.6h.01M698.5 463.0h.01M707.5 462.7h.01M709.2 463.6h.01M719.1 462.7h.01M723.3 462.8h.01M727.2 460.4h.01M692.8 463.4h.01M693.5 462.5h.01M696.6 464.6h.01M701.5 466.7h.01M705.9 465.9h.01M708.4 465.4h.01M714.6 465.5h.01M715.8 466.6h.01M718.9 466.8h.01M696.9 468.1h.01M701.0 467.4h.01M705.3 469.3h.01M708.1 467.8h.01M710.3 469.8h.01M714.6 466.2h.01M719.6 468.3h.01M723.4 466.2h.01M698.5 473.7h.01M702.3 471.7h.01M709.5 472.5h.01M713.5 472.9h.01M722.4 472.2h.01M703.4 476.6h.01M713.2 476.6h.01M715.8 475.6h.01M584.8 457.3h.01M587.9 463.5h.01M567.1 458.3h.01M566.0 456.7h.01M559.8 469.4h.01M565.0 472.9h.01M569.2 471.9h.01M572.3 475.0h.01M562.9 483.3h.01M566.0 485.4h.01M560.8 493.8h.01M554.6 492.1h.01M562.9 499.6h.01M572.3 503.8h.01M574.4 502.7h.01M547.3 493.8h.01M551.5 496.9h.01M541.0 504.2h.01M544.2 506.2h.01M556.7 483.3h.01M559.8 486.5h.01M552.5 487.5h.01M581.7 462.5h.01M584.8 466.7h.01M590.0 466.7h.01M595.2 469.8h.01M547.3 441.7h.01M570.8 437.5h.01M575.8 446.2h.01M733.8 520.2h.01M733.3 520.0h.01M733.3 537.5h.01M732.5 540.3h.01M742.5 538.0h.01M740.3 541.3h.01M730.8 548.7h.01M735.3 547.0h.01M748.3 545.8h.01M752.5 547.0h.01M750.0 550.8h.01M747.5 554.2h.01M742.5 557.8h.01M740.3 550.3h.01M745.8 548.3h.01M746.7 550.8h.01M750.8 548.3h.01M749.2 553.3h.01M751.7 552.5h.01M745.0 545.0h.01M753.3 550.0h.01M752.5 562.5h.01M755.3 563.0h.01M756.3 566.7h.01M759.2 570.8h.01M780.7 570.0h.01M784.3 564.2h.01M723.0 567.5h.01M729.2 571.3h.01M749.7 575.3h.01M774.2 632.2h.01M716.0 588.3h.01M714.3 585.9h.01M757.7 603.2h.01M771.3 604.1h.01M783.2 591.0h.01M710.6 580.2h.01M747.8 602.8h.01M743.6 600.8h.01M739.0 603.3h.01M736.2 599.9h.01M742.8 600.5h.01M710.2 578.7h.01M772.4 605.5h.01M714.0 578.7h.01M708.2 578.7h.01M754.5 600.9h.01M715.5 589.2h.01M714.0 583.7h.01M743.4 606.2h.01M743.8 600.4h.01M728.5 600.2h.01M786.2 585.5h.01M776.5 595.4h.01M772.0 597.8h.01M723.8 592.3h.01M747.6 604.2h.01M735.8 596.3h.01M708.3 581.1h.01M748.8 602.2h.01M711.4 578.4h.01M742.6 604.5h.01M719.4 590.7h.01M778.5 592.1h.01M723.7 593.8h.01M710.1 579.7h.01M782.6 588.2h.01M779.8 589.4h.01M776.6 597.7h.01M757.5 602.5h.01M736.9 598.4h.01M778.2 592.7h.01M704.2 578.9h.01M712.4 578.3h.01M778.4 592.4h.01M715.6 591.0h.01M712.0 577.1h.01M768.2 600.3h.01M775.3 599.3h.01M749.9 599.9h.01M772.0 597.4h.01M729.5 596.3h.01M777.8 596.8h.01M710.6 577.6h.01M725.0 601.1h.01M732.6 601.9h.01M747.3 602.3h.01M781.0 587.5h.01M746.5 602.4h.01M744.3 602.8h.01M736.6 604.7h.01M780.3 595.3h.01M758.2 603.9h.01M769.0 602.7h.01M736.2 598.2h.01M783.6 589.0h.01M714.5 583.9h.01M707.3 577.8h.01M730.3 600.8h.01M727.0 596.3h.01M724.1 594.0h.01M725.4 593.9h.01M749.2 604.1h.01M713.0 579.3h.01M713.2 586.3h.01M727.9 599.2h.01M719.7 592.1h.01M761.3 603.6h.01M720.5 594.0h.01M753.2 601.3h.01M737.9 602.1h.01M731.3 600.4h.01M710.2 581.2h.01M732.0 595.5h.01M721.1 593.4h.01M744.2 603.7h.01M785.8 589.0h.01M705.8 574.9h.01M785.0 587.1h.01M738.0 598.5h.01M714.9 585.1h.01M779.7 594.7h.01M768.5 594.7h.01M778.9 589.6h.01M773.6 591.2h.01M772.2 594.0h.01M766.8 589.3h.01M778.3 589.9h.01M776.5 593.6h.01M772.0 599.8h.01M773.6 592.6h.01M774.0 591.5h.01M779.1 592.0h.01M773.5 589.5h.01M777.1 588.9h.01M766.0 595.8h.01M772.9 586.9h.01M772.3 598.7h.01M779.0 593.3h.01M770.7 587.7h.01M767.1 596.5h.01M742.5 586.3h.01M755.8 589.7h.01M768.0 583.3h.01M772.5 583.0h.01M738.3 590.8h.01M730.0 590.8h.01M721.7 587.5h.01M751.7 593.3h.01M745.8 593.3h.01M770.0 586.7h.01M921.0 534.5h.01M919.0 536.5h.01M911.0 538.5h.01M919.0 539.0h.01M916.5 544.0h.01M904.5 552.5h.01M903.5 556.0h.01M904.0 559.0h.01M898.5 564.5h.01M897.5 569.0h.01M896.2 571.5h.01M895.5 576.5h.01M896.5 581.0h.01M898.4 590.8h.01M912.5 552.0h.01M910.0 552.0h.01M915.0 558.0h.01M912.5 560.5h.01M914.0 563.0h.01M909.5 565.8h.01M912.5 566.8h.01M914.0 568.2h.01M912.8 576.2h.01M913.2 584.5h.01M912.2 589.2h.01M995.5 618.8h.01M998.0 619.6h.01M1001.6 620.2h.01M1004.5 622.7h.01M1008.8 619.2h.01M1010.9 618.5h.01M1017.4 620.3h.01M983.7 624.8h.01M988.5 623.1h.01M991.3 621.8h.01M994.9 621.7h.01M997.4 622.8h.01M1000.4 623.1h.01M1002.9 624.2h.01M1008.4 623.8h.01M1012.7 623.5h.01M1013.9 622.8h.01M1016.7 622.1h.01M1022.0 622.7h.01M1023.7 625.8h.01M979.0 626.7h.01M982.0 627.2h.01M987.3 625.8h.01M990.3 627.0h.01M991.7 627.0h.01M996.6 625.1h.01M998.9 627.2h.01M1001.8 625.4h.01M1004.0 625.7h.01M1010.6 625.9h.01M1010.9 625.1h.01M1017.0 627.0h.01M1021.4 627.8h.01M1020.4 628.6h.01M1027.0 626.0h.01M1029.1 626.7h.01M974.4 627.9h.01M978.6 629.3h.01M979.9 627.7h.01M983.3 629.0h.01M988.0 629.1h.01M989.2 629.7h.01M993.0 628.5h.01M996.4 629.5h.01M1001.6 628.0h.01M1003.2 627.7h.01M1007.8 628.1h.01M1011.0 629.1h.01M1015.2 630.2h.01M1016.6 631.5h.01M1021.4 627.6h.01M1024.5 630.2h.01M1027.2 629.6h.01M1030.8 629.2h.01M1034.6 629.4h.01M960.2 633.0h.01M961.8 631.7h.01M966.9 631.1h.01M971.9 632.8h.01M974.0 630.4h.01M978.0 632.6h.01M982.0 631.8h.01M987.6 632.5h.01M986.9 631.0h.01M993.2 631.6h.01M995.3 633.5h.01M1000.4 631.5h.01M1001.9 631.4h.01M1005.9 630.4h.01M1008.5 631.0h.01M1014.4 631.9h.01M1017.4 631.3h.01M1019.8 631.8h.01M1021.0 633.4h.01M1026.3 631.7h.01M1032.5 631.2h.01M1034.6 633.2h.01M1039.6 632.2h.01M1039.5 632.1h.01M961.8 634.6h.01M968.4 633.4h.01M969.9 634.7h.01M974.4 635.3h.01M976.8 636.8h.01M978.2 635.6h.01M984.2 634.8h.01M988.5 635.5h.01M991.4 636.4h.01M995.3 635.5h.01M995.5 635.0h.01M1000.5 635.2h.01M1006.7 636.1h.01M1008.6 634.4h.01M1010.4 635.9h.01M1013.3 636.9h.01M1018.7 633.7h.01M1020.6 634.6h.01M1026.0 632.6h.01M1027.8 633.3h.01M1031.4 633.1h.01M1034.8 635.2h.01M1036.6 634.4h.01M1042.6 636.6h.01M1045.0 635.4h.01M961.5 636.1h.01M966.8 639.0h.01M970.1 636.0h.01M972.4 637.8h.01M974.7 638.1h.01M979.7 638.8h.01M983.3 637.4h.01M984.7 637.8h.01M986.7 637.5h.01M991.8 637.4h.01M995.7 638.4h.01M999.1 639.5h.01M1002.2 638.1h.01M1006.7 638.4h.01M1009.7 638.0h.01M1011.9 638.4h.01M1017.0 638.1h.01M1018.2 638.2h.01M1023.1 637.8h.01M1025.6 638.8h.01M1028.4 638.9h.01M1033.5 637.4h.01M1034.9 636.7h.01M1038.7 638.6h.01M1042.7 639.2h.01M1046.1 637.5h.01M1050.2 637.2h.01M964.4 640.6h.01M964.6 641.6h.01M971.2 640.2h.01M974.1 640.1h.01M976.2 638.8h.01M981.8 639.0h.01M983.1 639.4h.01M986.5 640.2h.01M989.0 638.8h.01M994.2 642.3h.01M998.5 640.3h.01M1000.8 641.0h.01M1003.9 642.4h.01M1009.2 640.8h.01M1011.7 640.0h.01M1012.0 639.2h.01M1018.6 641.3h.01M1021.4 640.3h.01M1025.9 642.0h.01M1029.1 639.6h.01M1031.6 640.9h.01M1035.3 640.8h.01M1037.7 642.4h.01M1041.4 639.4h.01M1045.6 641.7h.01M1049.1 638.8h.01M1051.8 639.4h.01M962.9 644.3h.01M965.2 643.6h.01M968.3 646.2h.01M971.1 644.8h.01M974.9 643.9h.01M977.2 644.8h.01M982.8 644.2h.01M986.9 644.8h.01M986.4 642.6h.01M993.0 643.5h.01M996.4 644.6h.01M998.2 643.3h.01M1001.4 642.9h.01M1007.9 643.0h.01M1010.3 644.7h.01M1012.7 642.2h.01M1015.9 641.8h.01M1019.7 643.2h.01M1021.7 644.3h.01M1026.6 644.4h.01M1030.6 643.7h.01M1033.9 645.4h.01M1036.7 643.5h.01M1040.0 641.8h.01M1046.4 644.4h.01M1045.0 643.9h.01M1049.7 642.4h.01M1053.6 642.6h.01M1057.7 643.0h.01M963.4 647.0h.01M968.0 646.4h.01M972.2 647.4h.01M973.8 647.9h.01M978.1 646.7h.01M980.1 647.2h.01M984.4 647.2h.01M987.9 646.6h.01M989.4 646.8h.01M994.9 645.5h.01M996.7 645.9h.01M1002.4 646.0h.01M1004.3 647.4h.01M1006.3 644.1h.01M1009.4 648.6h.01M1016.0 648.1h.01M1017.2 646.5h.01M1019.8 646.5h.01M1023.5 646.5h.01M1028.9 646.6h.01M1029.4 645.6h.01M1035.3 646.1h.01M1039.9 645.8h.01M1039.9 646.4h.01M1044.1 648.1h.01M1050.3 645.6h.01M1052.8 648.0h.01M1055.8 644.8h.01M1060.0 648.0h.01M1062.2 646.5h.01M961.8 649.8h.01M964.9 647.5h.01M968.1 648.5h.01M969.7 648.5h.01M977.6 649.6h.01M977.7 650.8h.01M982.7 648.7h.01M986.8 648.5h.01M986.8 647.4h.01M992.6 648.3h.01M996.8 647.7h.01M999.1 648.4h.01M1003.5 648.5h.01M1005.3 648.7h.01M1010.7 649.3h.01M1014.2 649.5h.01M1014.6 647.7h.01M1019.8 650.0h.01M1022.3 650.1h.01M1025.3 649.0h.01M1030.3 650.3h.01M1033.5 649.1h.01M1038.0 650.1h.01M1039.9 648.7h.01M1043.7 649.8h.01M1046.9 650.3h.01M1051.0 652.5h.01M1052.9 650.5h.01M1058.1 649.9h.01M1060.9 649.6h.01M963.1 652.3h.01M964.9 652.0h.01M966.4 651.5h.01M975.4 653.1h.01M980.7 651.8h.01M982.1 653.1h.01M983.0 654.3h.01M986.9 654.8h.01M989.3 653.8h.01M994.1 653.4h.01M997.4 651.2h.01M1002.4 652.0h.01M1004.3 651.1h.01M1007.9 651.2h.01M1011.3 651.5h.01M1016.1 650.8h.01M1019.5 651.7h.01M1022.0 653.8h.01M1025.0 653.6h.01M1027.2 652.1h.01M1029.7 653.8h.01M1033.1 651.1h.01M1038.3 649.5h.01M1042.5 653.0h.01M1044.7 651.3h.01M1047.7 652.0h.01M1050.9 650.2h.01M1052.4 653.5h.01M1057.8 653.3h.01M1061.4 652.2h.01M959.7 654.7h.01M965.9 658.5h.01M969.8 654.8h.01M971.2 654.5h.01M976.2 656.4h.01M977.5 655.4h.01M982.3 656.0h.01M986.8 655.3h.01M987.9 655.2h.01M992.6 653.9h.01M995.0 658.3h.01M999.3 657.4h.01M1001.3 654.6h.01M1005.2 656.8h.01M1010.9 655.9h.01M1012.9 656.0h.01M1015.9 654.8h.01M1018.8 656.8h.01M1023.4 657.0h.01M1026.9 655.2h.01M1029.2 656.3h.01M1033.7 655.4h.01M1035.0 654.7h.01M1038.9 655.1h.01M1044.4 654.8h.01M1047.7 654.2h.01M1051.7 655.1h.01M1055.0 654.7h.01M1057.0 655.6h.01M1061.2 657.2h.01M1062.4 654.7h.01M963.7 659.3h.01M967.5 658.0h.01M971.5 656.4h.01M973.5 658.3h.01M977.9 660.0h.01M979.8 659.6h.01M984.5 659.7h.01M988.2 655.7h.01M992.3 656.9h.01M993.7 657.8h.01M995.5 657.0h.01M1000.5 657.7h.01M1004.5 658.2h.01M1005.9 659.3h.01M1011.4 658.4h.01M1014.7 657.2h.01M1017.6 657.5h.01M1021.1 659.0h.01M1025.6 659.3h.01M1029.6 660.9h.01M1032.7 658.4h.01M1033.6 657.9h.01M1035.9 657.1h.01M1042.2 658.3h.01M1045.3 659.2h.01M1048.1 657.9h.01M1050.8 657.7h.01M1057.9 658.3h.01M1059.0 658.7h.01M1060.6 655.5h.01M1066.8 659.3h.01M961.3 661.2h.01M965.0 661.5h.01M969.0 663.0h.01M973.3 661.2h.01M974.2 659.6h.01M977.4 662.9h.01M982.4 662.0h.01M983.7 663.2h.01M990.8 662.1h.01M993.7 661.1h.01M997.0 660.5h.01M1001.4 663.5h.01M1001.8 662.0h.01M1006.2 660.7h.01M1008.6 662.3h.01M1011.2 663.8h.01M1015.9 661.6h.01M1019.4 661.9h.01M1024.7 664.6h.01M1024.2 661.7h.01M1028.6 661.1h.01M1032.7 660.9h.01M1037.1 660.8h.01M1040.0 661.8h.01M1043.2 661.8h.01M1048.2 661.8h.01M1051.3 661.3h.01M1054.6 660.0h.01M1057.1 663.0h.01M1061.7 661.0h.01M1063.9 661.3h.01M962.7 663.7h.01M968.1 666.5h.01M967.1 665.3h.01M974.9 664.6h.01M977.2 662.9h.01M980.0 663.0h.01M985.2 664.8h.01M988.4 663.4h.01M991.9 663.8h.01M992.9 665.5h.01M998.3 664.0h.01M999.8 663.8h.01M1002.9 664.3h.01M1009.3 665.0h.01M1010.5 666.5h.01M1014.1 662.8h.01M1018.2 664.9h.01M1020.8 664.7h.01M1025.5 663.4h.01M1027.3 664.1h.01M1031.0 665.4h.01M1036.7 663.1h.01M1039.4 667.0h.01M1041.0 664.3h.01M1044.2 664.5h.01M1048.1 663.3h.01M1051.2 664.0h.01M1054.1 664.4h.01M1058.8 664.7h.01M1061.0 662.9h.01M1066.1 663.7h.01M964.0 666.3h.01M965.8 666.4h.01M969.6 667.2h.01M970.7 666.5h.01M975.0 666.7h.01M979.3 667.6h.01M981.9 665.9h.01M986.4 667.9h.01M989.2 667.2h.01M991.3 665.0h.01M994.8 666.3h.01M996.9 668.4h.01M1003.6 667.0h.01M1006.6 666.6h.01M1007.0 667.5h.01M1012.0 666.9h.01M1016.3 665.0h.01M1020.1 667.3h.01M1023.0 669.3h.01M1027.1 667.0h.01M1030.8 668.0h.01M1034.6 667.7h.01M1036.5 666.3h.01M1040.9 665.8h.01M1042.7 665.0h.01M1047.5 668.1h.01M1050.6 666.0h.01M1054.6 667.0h.01M1056.5 667.1h.01M1061.7 666.4h.01M1064.4 668.2h.01M960.1 670.8h.01M962.7 669.3h.01M966.6 671.5h.01M969.9 671.7h.01M973.0 669.7h.01M976.7 669.6h.01M979.7 668.7h.01M986.9 671.0h.01M985.8 671.5h.01M989.8 672.3h.01M994.7 668.2h.01M997.9 670.1h.01M1002.4 671.0h.01M1003.6 670.8h.01M1006.6 670.2h.01M1011.1 669.6h.01M1015.6 669.2h.01M1016.6 670.0h.01M1021.8 672.1h.01M1025.0 670.9h.01M1026.3 671.1h.01M1030.2 670.7h.01M1033.6 669.4h.01M1038.4 670.0h.01M1041.5 671.0h.01M1046.0 670.0h.01M1048.6 669.1h.01M1051.1 671.9h.01M1055.0 669.9h.01M1057.6 667.9h.01M1063.5 670.0h.01M1064.9 670.6h.01M958.0 673.1h.01M962.9 672.9h.01M963.5 672.7h.01M968.3 674.9h.01M971.1 672.2h.01M975.3 672.3h.01M977.4 674.0h.01M981.6 673.2h.01M983.2 673.8h.01M990.0 673.3h.01M991.6 672.6h.01M997.8 672.9h.01M1000.3 674.2h.01M1000.2 674.2h.01M1006.2 676.2h.01M1008.6 672.7h.01M1013.0 672.8h.01M1016.8 672.8h.01M1019.1 673.5h.01M1021.9 672.7h.01M1027.5 671.5h.01M1029.4 671.3h.01M1034.2 671.6h.01M1035.8 672.4h.01M1040.7 671.8h.01M1043.2 674.3h.01M1048.0 670.2h.01M1050.0 672.4h.01M1054.5 672.4h.01M1053.6 673.0h.01M1059.1 676.1h.01M1062.5 674.2h.01M960.9 676.2h.01M962.6 674.5h.01M965.8 675.2h.01M970.1 676.0h.01M973.0 675.3h.01M976.2 675.0h.01M981.6 675.5h.01M983.2 677.4h.01M987.0 676.4h.01M992.4 675.4h.01M992.3 678.4h.01M996.9 677.0h.01M1000.8 675.4h.01M1004.3 677.5h.01M1007.8 676.0h.01M1012.3 676.7h.01M1013.7 675.1h.01M1018.9 677.5h.01M1019.8 676.1h.01M1025.0 675.0h.01M1027.8 675.1h.01M1030.7 676.8h.01M1036.7 675.3h.01M1038.5 675.0h.01M1042.7 677.0h.01M1046.7 676.5h.01M1048.0 674.2h.01M1051.2 675.4h.01M1053.3 676.7h.01M1059.1 677.7h.01M1060.9 674.2h.01M1066.4 677.4h.01M958.5 678.9h.01M963.3 679.8h.01M964.3 678.8h.01M969.1 678.9h.01M972.8 678.1h.01M976.5 678.1h.01M978.3 679.5h.01M982.3 677.6h.01M985.1 677.5h.01M987.8 680.3h.01M991.7 678.4h.01M996.0 679.6h.01M996.9 678.8h.01M1002.7 679.1h.01M1005.2 679.7h.01M1011.4 677.1h.01M1012.5 679.6h.01M1016.4 677.0h.01M1018.1 678.0h.01M1022.7 679.6h.01M1025.8 678.4h.01M1032.1 679.6h.01M1034.8 680.1h.01M1037.6 678.9h.01M1039.9 679.3h.01M1043.0 679.4h.01M1045.9 679.3h.01M1050.0 678.5h.01M1051.2 679.7h.01M1056.5 679.2h.01M1061.4 680.0h.01M1063.2 678.6h.01M962.3 682.4h.01M962.1 683.4h.01M968.3 681.4h.01M972.8 683.6h.01M972.6 682.5h.01M977.5 681.0h.01M980.1 681.9h.01M983.9 683.3h.01M987.5 680.9h.01M989.7 683.9h.01M993.7 681.0h.01M998.5 682.3h.01M1001.6 682.9h.01M1004.2 682.3h.01M1007.3 682.4h.01M1010.2 683.3h.01M1014.2 681.7h.01M1016.2 681.7h.01M1020.3 681.3h.01M1024.4 681.1h.01M1028.9 680.9h.01M1031.1 680.6h.01M1034.7 682.0h.01M1038.7 680.7h.01M1042.4 680.4h.01M1045.5 681.7h.01M1048.0 681.9h.01M1050.8 682.5h.01M1055.2 683.0h.01M1059.0 682.5h.01M1059.1 681.9h.01M1065.6 682.3h.01M958.1 683.9h.01M961.2 685.2h.01M966.7 684.9h.01M968.5 683.5h.01M970.8 684.0h.01M976.7 683.4h.01M978.5 683.2h.01M982.2 684.4h.01M986.8 684.0h.01M988.7 683.8h.01M992.9 684.4h.01M995.5 685.1h.01M1000.0 684.3h.01M1001.6 685.2h.01M1006.1 684.5h.01M1008.2 683.7h.01M1011.3 684.6h.01M1017.9 685.7h.01M1018.9 686.2h.01M1021.9 683.9h.01M1027.1 684.0h.01M1029.6 686.5h.01M1032.4 684.7h.01M1036.2 684.2h.01M1040.4 684.4h.01M1042.6 685.8h.01M1048.0 685.7h.01M1047.6 684.4h.01M1054.5 687.3h.01M1056.9 685.8h.01M1059.7 684.6h.01M1064.8 684.8h.01M960.8 689.8h.01M963.4 687.3h.01M965.8 687.8h.01M971.3 687.8h.01M974.5 689.5h.01M976.3 688.8h.01M978.7 687.7h.01M983.8 687.2h.01M986.2 687.5h.01M991.0 686.1h.01M994.8 688.8h.01M994.8 686.0h.01M1001.4 687.4h.01M1004.0 687.2h.01M1008.3 687.3h.01M1012.8 686.3h.01M1013.3 687.4h.01M1016.7 687.6h.01M1022.2 689.4h.01M1024.3 687.4h.01M1026.5 687.1h.01M1032.1 686.8h.01M1035.4 688.5h.01M1037.7 687.0h.01M1040.4 685.3h.01M1043.6 689.1h.01M1047.6 688.2h.01M1052.4 688.0h.01M1054.5 688.3h.01M1057.3 688.0h.01M1062.8 688.7h.01M1066.1 687.0h.01M959.1 689.7h.01M962.1 689.2h.01M965.4 691.4h.01M969.9 691.0h.01M970.9 691.1h.01M976.9 693.2h.01M978.4 690.3h.01M981.3 689.6h.01M985.7 689.8h.01M989.1 690.3h.01M991.1 688.0h.01M997.2 689.2h.01M998.5 690.3h.01M1003.3 690.5h.01M1007.4 690.6h.01M1008.0 691.4h.01M1012.3 692.0h.01M1017.2 691.2h.01M1019.7 687.9h.01M1023.9 690.4h.01M1025.3 690.9h.01M1030.7 691.5h.01M1032.4 690.5h.01M1036.0 691.3h.01M1039.1 691.8h.01M1043.6 692.6h.01M1046.1 689.4h.01M1052.2 691.8h.01M1054.2 689.5h.01M1055.5 690.9h.01M1059.0 691.6h.01M1063.5 692.3h.01M955.4 694.1h.01M960.1 693.9h.01M963.7 694.1h.01M967.0 692.3h.01M969.5 693.0h.01M974.9 696.2h.01M977.1 694.1h.01M981.6 694.1h.01M981.8 692.7h.01M987.0 694.1h.01M990.6 693.0h.01M993.6 693.2h.01M998.6 694.1h.01M1000.6 696.2h.01M1004.8 692.4h.01M1008.3 691.9h.01M1011.0 693.4h.01M1013.9 695.5h.01M1018.3 693.6h.01M1021.9 693.5h.01M1023.2 694.7h.01M1028.5 691.7h.01M1033.0 695.2h.01M1034.0 693.6h.01M1037.6 693.8h.01M1041.3 694.3h.01M1045.2 693.2h.01M1050.4 693.3h.01M1050.8 693.5h.01M1054.5 693.1h.01M1059.3 694.4h.01M1062.5 693.8h.01M1065.5 693.8h.01M955.5 697.7h.01M958.1 698.7h.01M962.8 698.2h.01M966.9 697.2h.01M969.7 698.0h.01M971.8 696.5h.01M973.9 694.7h.01M979.2 697.5h.01M980.9 696.7h.01M984.4 698.0h.01M990.6 696.3h.01M991.8 697.6h.01M995.8 696.4h.01M1000.7 696.0h.01M1002.9 695.9h.01M1007.0 696.2h.01M1009.4 696.1h.01M1012.5 696.7h.01M1016.3 696.5h.01M1020.1 695.7h.01M1021.2 695.6h.01M1028.1 696.5h.01M1029.2 695.0h.01M1033.3 697.8h.01M1037.0 695.3h.01M1038.7 698.4h.01M1042.9 696.5h.01M1048.5 696.8h.01M1049.2 697.6h.01M1054.4 695.7h.01M1055.7 698.0h.01M1059.3 695.2h.01M1061.9 696.9h.01M953.3 699.0h.01M957.2 699.6h.01M959.5 699.6h.01M962.6 700.0h.01M967.9 700.7h.01M970.4 700.2h.01M976.9 701.3h.01M975.3 698.4h.01M979.9 700.3h.01M983.8 697.6h.01M988.0 697.0h.01M989.3 698.2h.01M992.0 701.3h.01M996.0 698.6h.01M999.8 702.2h.01M1003.9 699.7h.01M1009.8 699.9h.01M1012.0 698.8h.01M1014.0 699.2h.01M1017.1 699.4h.01M1021.0 701.1h.01M1023.7 699.0h.01M1028.6 699.3h.01M1031.8 699.6h.01M1035.2 699.2h.01M1041.5 699.4h.01M1040.1 700.8h.01M1042.9 700.3h.01M1048.9 699.3h.01M1053.2 699.8h.01M1054.3 700.3h.01M1056.9 699.4h.01M1061.9 700.5h.01M957.1 703.3h.01M958.5 702.7h.01M962.2 702.8h.01M964.0 703.2h.01M968.4 701.2h.01M974.2 702.5h.01M977.1 702.2h.01M976.7 703.0h.01M984.0 702.8h.01M984.8 701.6h.01M990.2 702.8h.01M993.5 701.9h.01M994.8 701.3h.01M997.5 701.6h.01M1000.9 701.9h.01M1005.8 703.4h.01M1010.1 702.9h.01M1012.0 703.0h.01M1017.5 702.7h.01M1020.3 703.3h.01M1020.9 704.7h.01M1026.7 702.1h.01M1028.5 703.8h.01M1034.3 702.7h.01M1037.9 701.7h.01M1040.0 702.7h.01M1042.8 701.6h.01M1046.3 703.4h.01M1050.1 703.3h.01M1052.3 703.3h.01M1056.3 702.5h.01M1060.9 702.9h.01M952.1 706.4h.01M955.9 708.0h.01M957.3 706.0h.01M962.4 705.2h.01M967.7 704.8h.01M969.6 705.7h.01M972.0 703.4h.01M977.0 705.0h.01M980.0 706.3h.01M984.0 704.7h.01M985.2 705.5h.01M991.2 706.9h.01M993.7 706.2h.01M997.0 705.4h.01M1001.5 703.9h.01M1003.5 704.4h.01M1007.6 705.8h.01M1011.6 704.9h.01M1013.0 706.6h.01M1017.2 703.3h.01M1023.4 706.5h.01M1025.7 705.1h.01M1029.1 705.9h.01M1031.0 705.8h.01M1033.8 704.3h.01M1036.9 707.2h.01M1041.2 704.8h.01M1047.2 704.4h.01M1048.9 705.8h.01M1052.5 704.6h.01M1056.1 705.1h.01M1058.6 703.9h.01M949.4 708.8h.01M955.0 708.1h.01M958.9 707.8h.01M961.9 707.8h.01M962.9 707.9h.01M969.6 708.0h.01M972.1 708.8h.01M975.4 709.0h.01M978.8 709.8h.01M982.0 708.1h.01M985.8 707.9h.01M988.2 709.2h.01M992.0 708.6h.01M996.4 708.6h.01M999.9 708.6h.01M1003.7 708.5h.01M1006.8 708.9h.01M1009.5 709.6h.01M1013.1 708.0h.01M1017.2 709.0h.01M1019.8 708.2h.01M1023.4 706.7h.01M1026.3 708.6h.01M1028.6 708.0h.01M1032.2 709.4h.01M1038.7 708.9h.01M1039.3 708.5h.01M1044.8 705.9h.01M1048.0 708.2h.01M1049.4 709.6h.01M1052.9 708.6h.01M1059.9 707.9h.01M1064.0 706.4h.01M953.5 710.8h.01M957.3 709.7h.01M958.6 712.6h.01M962.8 709.8h.01M967.5 709.4h.01M970.0 710.2h.01M974.9 711.4h.01M978.3 711.3h.01M980.3 709.8h.01M982.8 710.0h.01M986.5 710.9h.01M991.3 711.0h.01M992.7 710.3h.01M995.5 711.3h.01M1001.4 710.9h.01M1001.9 710.9h.01M1008.1 710.7h.01M1011.1 710.3h.01M1013.4 711.4h.01M1017.7 711.1h.01M1021.0 711.8h.01M1025.7 711.0h.01M1029.7 710.0h.01M1032.5 713.1h.01M1034.0 711.0h.01M1037.6 712.2h.01M1041.4 713.2h.01M1044.9 711.5h.01M1048.5 711.5h.01M1054.0 710.3h.01M1055.3 708.8h.01M1059.4 712.3h.01M952.3 715.0h.01M955.3 713.5h.01M955.2 714.5h.01M961.1 714.4h.01M964.8 714.9h.01M969.6 712.9h.01M972.1 714.0h.01M975.7 712.9h.01M981.3 713.7h.01M981.7 716.1h.01M986.7 713.1h.01M987.2 713.6h.01M992.4 715.4h.01M996.0 712.0h.01M997.8 713.6h.01M1000.5 715.4h.01M1008.2 715.5h.01M1010.9 715.1h.01M1013.5 715.4h.01M1015.7 713.7h.01M1020.1 714.0h.01M1021.0 713.7h.01M1026.7 713.3h.01M1029.2 714.0h.01M1034.3 715.0h.01M1036.0 714.9h.01M1039.8 713.1h.01M1043.7 713.1h.01M1046.8 713.8h.01M1051.1 714.6h.01M1054.9 712.7h.01M1057.0 715.1h.01M951.9 717.3h.01M955.4 718.1h.01M959.5 717.9h.01M964.6 718.0h.01M966.7 718.4h.01M969.7 716.4h.01M973.9 715.9h.01M976.4 717.9h.01M980.5 717.7h.01M983.2 715.8h.01M986.6 718.0h.01M990.1 717.0h.01M993.5 718.9h.01M997.4 718.6h.01M1002.1 716.7h.01M1004.4 716.3h.01M1006.6 715.9h.01M1010.4 717.1h.01M1014.7 715.8h.01M1019.0 715.6h.01M1021.0 718.0h.01M1025.4 717.3h.01M1029.1 720.1h.01M1032.2 717.0h.01M1036.1 718.5h.01M1037.1 717.9h.01M1041.4 719.2h.01M1044.9 717.1h.01M1048.9 715.2h.01M1052.4 717.6h.01M1056.6 717.8h.01M956.1 720.6h.01M959.4 719.6h.01M963.0 720.0h.01M965.4 721.1h.01M969.4 720.0h.01M970.4 718.7h.01M975.1 719.2h.01M980.2 720.4h.01M983.7 720.2h.01M983.6 719.8h.01M987.8 719.3h.01M992.8 719.7h.01M993.9 719.8h.01M998.7 719.6h.01M1001.9 719.3h.01M1007.3 720.5h.01M1007.8 718.8h.01M1011.8 719.5h.01M1015.9 721.0h.01M1019.0 718.7h.01M1026.1 720.0h.01M1026.9 719.5h.01M1031.3 719.8h.01M1032.4 720.2h.01M1036.8 722.0h.01M1037.2 721.9h.01M1043.6 721.6h.01M1045.6 720.4h.01M1050.5 720.7h.01M1054.8 719.9h.01M1056.4 720.7h.01M952.8 724.0h.01M956.5 724.8h.01M959.8 723.9h.01M964.1 722.2h.01M968.6 722.8h.01M970.5 724.7h.01M973.6 720.8h.01M977.4 722.1h.01M980.7 723.3h.01M984.3 724.8h.01M987.2 723.8h.01M989.8 722.7h.01M995.3 722.8h.01M995.5 722.4h.01M1001.9 724.4h.01M1003.6 722.9h.01M1007.8 724.3h.01M1011.2 725.0h.01M1012.8 722.8h.01M1017.9 721.9h.01M1021.9 722.6h.01M1024.2 724.3h.01M1027.1 721.5h.01M1032.0 723.0h.01M1033.4 722.2h.01M1039.6 722.5h.01M1042.3 723.7h.01M1046.6 722.6h.01M1047.5 721.6h.01M1051.7 722.5h.01M1054.4 724.1h.01M950.7 722.6h.01M954.0 725.4h.01M957.9 725.2h.01M961.6 726.1h.01M965.8 725.7h.01M969.0 727.9h.01M973.2 725.0h.01M975.8 726.2h.01M981.0 725.1h.01M983.9 725.2h.01M985.1 726.8h.01M989.5 727.4h.01M992.4 725.8h.01M995.1 726.8h.01M998.5 726.2h.01M1003.1 725.3h.01M1006.7 728.0h.01M1010.5 726.8h.01M1014.4 725.8h.01M1015.0 725.6h.01M1020.3 724.7h.01M1024.1 724.9h.01M1025.3 727.7h.01M1027.3 726.2h.01M1033.6 727.2h.01M1034.8 724.3h.01M1039.8 726.8h.01M1044.1 725.2h.01M1046.6 725.9h.01M1048.9 724.7h.01M950.1 731.0h.01M950.6 728.9h.01M957.1 729.2h.01M958.3 728.9h.01M963.8 730.7h.01M965.1 728.8h.01M968.9 729.4h.01M972.3 729.2h.01M975.7 727.1h.01M979.4 729.7h.01M983.8 728.7h.01M987.7 730.5h.01M988.4 730.1h.01M994.5 730.5h.01M998.1 729.5h.01M1002.5 727.9h.01M1004.5 730.6h.01M1008.3 728.0h.01M1011.8 728.8h.01M1014.0 729.0h.01M1017.7 729.4h.01M1020.7 731.1h.01M1023.8 728.4h.01M1028.4 730.7h.01M1031.7 728.2h.01M1035.0 728.7h.01M1037.4 729.4h.01M1041.1 729.3h.01M1044.9 727.0h.01M1047.0 727.2h.01M947.3 731.7h.01M950.3 728.9h.01M953.7 731.8h.01M957.7 732.3h.01M962.0 732.1h.01M963.3 732.5h.01M968.3 731.8h.01M973.8 731.3h.01M976.7 731.3h.01M978.6 732.0h.01M981.7 732.5h.01M984.1 732.1h.01M990.2 732.2h.01M991.4 733.3h.01M995.9 732.9h.01M997.9 731.3h.01M1002.9 731.1h.01M1004.6 731.6h.01M1010.1 732.4h.01M1014.5 733.9h.01M1014.5 731.9h.01M1018.1 734.7h.01M1022.0 730.8h.01M1026.1 731.6h.01M1029.5 730.0h.01M1032.7 733.4h.01M1038.7 733.5h.01M1040.5 731.3h.01M1044.0 730.8h.01M1046.6 732.4h.01M947.2 733.7h.01M948.5 734.2h.01M952.8 736.5h.01M954.5 734.2h.01M959.6 734.7h.01M964.7 735.5h.01M967.3 735.5h.01M970.6 735.4h.01M972.3 736.5h.01M978.1 735.8h.01M980.1 733.6h.01M983.4 734.4h.01M987.2 733.3h.01M991.4 734.2h.01M996.9 734.3h.01M996.9 735.4h.01M1001.3 736.6h.01M1005.0 735.1h.01M1007.7 735.5h.01M1011.1 734.6h.01M1015.1 734.5h.01M1017.4 736.0h.01M1024.4 732.7h.01M1021.2 734.1h.01M1026.6 735.1h.01M1031.1 736.6h.01M1033.9 734.0h.01M1037.7 734.3h.01M1041.8 735.4h.01M1044.7 735.1h.01M943.3 738.1h.01M947.5 736.0h.01M950.2 737.8h.01M954.3 736.6h.01M957.7 738.1h.01M962.5 735.4h.01M965.2 739.0h.01M969.0 738.3h.01M973.0 737.6h.01M976.3 738.1h.01M977.4 737.1h.01M981.3 738.4h.01M986.2 738.5h.01M990.4 737.2h.01M991.4 735.3h.01M997.3 735.7h.01M997.1 738.8h.01M1000.6 737.5h.01M1006.9 738.9h.01M1008.7 737.6h.01M1012.9 736.6h.01M1016.3 737.6h.01M1020.1 736.1h.01M1022.7 739.1h.01M1027.4 736.4h.01M1030.5 736.4h.01M1030.0 737.5h.01M1036.6 737.6h.01M1039.4 738.0h.01M1039.7 736.5h.01M942.5 740.2h.01M947.0 740.1h.01M948.4 739.0h.01M952.3 738.8h.01M956.5 742.0h.01M959.9 741.5h.01M962.5 739.6h.01M967.8 740.5h.01M970.3 741.5h.01M973.5 740.2h.01M977.3 739.9h.01M980.3 738.7h.01M983.9 742.7h.01M988.2 741.3h.01M990.3 740.5h.01M993.8 743.0h.01M996.7 740.3h.01M1000.3 741.2h.01M1002.4 739.5h.01M1008.9 737.8h.01M1012.1 740.4h.01M1013.1 740.9h.01M1018.7 739.5h.01M1019.9 740.8h.01M1026.1 740.5h.01M1027.1 739.6h.01M1032.2 742.6h.01M1035.0 740.7h.01M1038.5 741.5h.01M939.9 743.3h.01M943.9 743.4h.01M948.0 744.9h.01M952.3 743.8h.01M953.2 745.2h.01M958.3 743.9h.01M962.7 743.7h.01M966.5 745.6h.01M969.0 745.9h.01M972.1 743.1h.01M977.2 745.0h.01M977.0 743.8h.01M982.8 743.6h.01M985.9 743.8h.01M990.3 743.5h.01M991.0 743.9h.01M995.3 743.2h.01M998.6 743.6h.01M1001.9 743.4h.01M1006.9 745.0h.01M1010.5 744.9h.01M1012.4 743.4h.01M1017.0 745.0h.01M1020.7 743.5h.01M1022.8 743.6h.01M1025.3 744.1h.01M1029.4 743.5h.01M1032.5 744.5h.01M1034.0 743.5h.01M943.9 746.0h.01M946.0 748.3h.01M949.7 747.9h.01M953.2 746.0h.01M956.6 746.7h.01M959.4 744.4h.01M963.8 747.6h.01M965.3 746.6h.01M970.3 747.2h.01M973.2 746.2h.01M975.6 748.6h.01M980.6 747.0h.01M985.1 747.3h.01M987.7 748.4h.01M992.1 746.6h.01M994.4 746.4h.01M996.7 745.9h.01M1000.0 747.4h.01M1003.9 746.4h.01M1007.7 747.3h.01M1013.0 747.0h.01M1013.6 747.8h.01M1017.2 745.4h.01M1021.1 745.9h.01M1024.2 748.1h.01M1027.8 745.5h.01M1030.8 748.5h.01M1035.7 747.7h.01M944.5 750.1h.01M946.5 750.0h.01M950.1 748.0h.01M953.5 750.0h.01M958.9 751.2h.01M962.1 749.4h.01M966.5 749.7h.01M969.0 751.2h.01M971.1 749.9h.01M976.5 750.2h.01M978.3 747.9h.01M983.6 748.6h.01M986.7 749.2h.01M989.0 749.0h.01M994.0 749.5h.01M996.2 750.0h.01M1000.3 749.2h.01M1001.5 750.3h.01M1006.6 749.0h.01M1008.9 749.8h.01M1013.8 750.0h.01M1018.2 748.9h.01M1019.2 751.0h.01M1023.1 748.4h.01M1026.9 749.1h.01M1029.3 751.8h.01M1032.3 749.4h.01M943.2 755.3h.01M946.8 753.1h.01M949.7 752.2h.01M954.2 752.3h.01M956.8 752.2h.01M960.2 752.0h.01M964.2 753.2h.01M967.0 752.7h.01M969.6 752.2h.01M973.0 750.8h.01M977.4 751.7h.01M979.3 753.3h.01M984.8 752.0h.01M986.3 752.2h.01M992.0 754.4h.01M994.0 754.6h.01M996.2 752.8h.01M1001.2 753.7h.01M1004.7 754.3h.01M1008.2 751.1h.01M1012.1 753.4h.01M1014.4 751.5h.01M1017.5 754.6h.01M1021.2 752.3h.01M1024.2 753.2h.01M1028.0 751.5h.01M1030.5 750.8h.01M945.4 754.1h.01M948.0 757.5h.01M952.1 755.7h.01M954.3 756.8h.01M957.9 756.2h.01M963.0 757.6h.01M966.2 755.7h.01M970.3 755.1h.01M972.7 754.7h.01M975.1 755.3h.01M981.4 755.0h.01M979.8 753.8h.01M988.6 756.9h.01M989.0 754.6h.01M992.9 754.0h.01M995.3 755.4h.01M1000.4 754.3h.01M1003.4 758.2h.01M1007.6 756.0h.01M1008.6 756.6h.01M1013.7 758.1h.01M1016.0 755.1h.01M1018.7 756.2h.01M1024.7 756.0h.01M1023.5 755.3h.01M1029.8 756.7h.01M945.8 758.3h.01M950.0 759.2h.01M953.4 758.5h.01M956.8 760.1h.01M962.0 759.1h.01M962.2 757.8h.01M966.1 760.2h.01M971.2 758.2h.01M973.6 759.4h.01M976.8 758.6h.01M980.4 758.4h.01M982.8 759.3h.01M988.1 757.0h.01M990.5 757.3h.01M993.9 758.6h.01M997.6 758.3h.01M1000.3 759.5h.01M1003.7 759.2h.01M1007.9 759.9h.01M1009.6 760.7h.01M1013.9 759.4h.01M1019.1 759.5h.01M1021.9 756.9h.01M1024.9 757.9h.01M1028.4 758.7h.01M948.9 762.5h.01M952.3 763.0h.01M955.8 762.9h.01M959.9 760.9h.01M961.7 763.0h.01M966.3 763.2h.01M969.1 759.4h.01M974.2 763.9h.01M975.2 761.7h.01M977.8 760.4h.01M979.5 760.3h.01M986.6 761.7h.01M988.9 762.6h.01M993.9 762.2h.01M995.5 760.7h.01M999.4 761.2h.01M1003.3 760.3h.01M1004.4 761.8h.01M1010.4 761.0h.01M1010.7 761.7h.01M1014.6 762.6h.01M1019.2 759.4h.01M1022.1 759.4h.01M1026.5 762.3h.01M950.4 762.2h.01M953.0 763.3h.01M956.5 764.7h.01M960.8 764.0h.01M962.7 765.1h.01M966.7 765.3h.01M970.3 763.4h.01M971.4 764.8h.01M977.7 764.5h.01M981.5 764.9h.01M986.0 763.3h.01M988.0 764.4h.01M990.5 765.1h.01M994.1 762.1h.01M996.9 765.2h.01M999.1 762.7h.01M1004.9 764.5h.01M1006.0 764.3h.01M1012.4 763.9h.01M1014.7 763.7h.01M1019.0 764.2h.01M1021.8 764.5h.01M1022.9 764.6h.01M952.0 768.3h.01M955.6 765.8h.01M957.8 767.3h.01M962.2 767.8h.01M965.2 768.4h.01M967.9 766.4h.01M969.0 766.6h.01M976.3 767.4h.01M979.0 768.4h.01M982.0 767.4h.01M985.6 766.5h.01M988.8 767.7h.01M993.5 769.1h.01M995.7 766.9h.01M998.1 767.7h.01M1003.7 768.8h.01M1005.7 766.5h.01M1008.1 765.3h.01M1011.2 766.9h.01M1017.6 767.9h.01M1016.8 765.8h.01M1023.2 768.2h.01M954.2 769.0h.01M957.9 771.9h.01M960.9 769.5h.01M961.8 770.6h.01M966.7 769.4h.01M970.1 770.1h.01M974.0 770.8h.01M977.3 768.1h.01M980.5 771.2h.01M983.7 769.3h.01M986.5 772.4h.01M990.2 769.0h.01M994.2 769.2h.01M996.7 770.9h.01M1002.3 771.5h.01M1004.7 772.2h.01M1007.9 770.0h.01M1011.6 770.7h.01M1013.3 770.4h.01M1018.7 770.4h.01M955.6 772.0h.01M957.6 771.1h.01M962.2 775.6h.01M965.4 774.0h.01M967.4 772.8h.01M972.7 772.2h.01M975.6 774.2h.01M978.2 774.8h.01M981.5 775.0h.01M984.8 772.2h.01M987.6 772.4h.01M992.6 773.0h.01M995.8 773.0h.01M1000.0 772.9h.01M1001.4 773.9h.01M1004.3 772.9h.01M1009.8 774.1h.01M1012.3 773.6h.01M957.6 774.5h.01M959.9 775.3h.01M962.7 776.8h.01M965.7 775.4h.01M968.1 777.1h.01M972.8 777.3h.01M978.9 775.4h.01M993.6 776.1h.01M998.1 775.8h.01M1000.7 775.0h.01M1006.5 776.9h.01M1008.2 775.6h.01M1009.5 776.9h.01M901.7 698.7h.01M937.0 735.9h.01M955.5 685.0h.01M947.7 685.0h.01M948.4 677.2h.01M927.7 732.3h.01M932.4 702.5h.01M937.8 723.2h.01M908.8 696.8h.01M947.3 725.9h.01M938.8 699.2h.01M956.7 668.1h.01M916.8 726.3h.01M957.1 671.9h.01M945.6 694.9h.01M927.7 728.1h.01M945.4 677.1h.01M941.2 694.2h.01M940.7 733.2h.01M932.8 756.3h.01M946.6 718.2h.01M906.4 727.5h.01M925.1 783.5h.01M926.1 755.7h.01M929.5 751.4h.01M928.2 780.2h.01M914.7 708.0h.01M909.1 722.5h.01M926.0 776.3h.01M901.4 712.4h.01M915.7 704.8h.01M914.2 743.8h.01M940.5 767.0h.01M942.2 775.3h.01M952.9 660.9h.01M897.8 701.5h.01M958.0 678.8h.01M939.0 762.5h.01M902.6 719.0h.01M912.3 713.2h.01M917.6 703.3h.01M943.6 729.8h.01M944.0 706.9h.01M915.2 718.6h.01M915.8 781.6h.01M940.2 780.2h.01M937.1 782.0h.01M941.4 766.3h.01M917.8 761.4h.01M938.8 762.2h.01M951.4 684.4h.01M923.4 758.0h.01M915.7 740.1h.01M924.3 728.9h.01M915.0 695.6h.01M918.1 702.5h.01M915.2 751.8h.01M938.9 776.7h.01M915.5 711.4h.01M949.0 683.6h.01M932.7 762.5h.01M949.5 659.1h.01M945.3 696.5h.01M918.0 729.5h.01M919.7 697.2h.01M956.2 671.3h.01M916.5 700.2h.01M946.6 704.5h.01M948.0 769.2h.01M908.1 713.1h.01M927.2 741.1h.01M924.3 728.7h.01M929.3 721.1h.01M955.4 658.6h.01M939.8 697.2h.01M927.9 699.9h.01M935.4 748.4h.01M929.4 738.6h.01M947.2 672.7h.01M955.0 665.0h.01M908.8 720.9h.01M928.7 766.6h.01M919.0 782.2h.01M928.4 703.5h.01M920.8 754.1h.01M946.9 672.2h.01M905.9 723.6h.01M927.5 746.5h.01M943.0 756.3h.01M919.6 753.6h.01M928.5 764.8h.01M935.0 700.2h.01M959.3 673.5h.01M935.7 726.4h.01M943.6 735.5h.01M948.3 761.1h.01M948.2 714.5h.01M939.0 743.7h.01M947.7 684.7h.01M930.9 728.2h.01M925.1 727.7h.01M941.8 694.3h.01M928.3 759.4h.01M953.0 664.7h.01M930.6 712.1h.01M922.7 726.5h.01M942.4 771.9h.01M921.0 761.6h.01M930.5 704.3h.01M928.3 699.8h.01M951.9 677.8h.01M929.4 749.8h.01M897.0 698.4h.01M918.7 723.0h.01M901.4 700.1h.01M911.5 738.2h.01M929.8 777.7h.01M948.3 778.8h.01M916.5 753.0h.01M898.1 695.2h.01M938.3 770.4h.01M913.2 703.5h.01M913.5 760.2h.01M906.2 696.6h.01M940.1 724.6h.01M923.1 767.3h.01M938.2 759.1h.01M943.4 754.7h.01M953.4 677.6h.01M905.4 696.4h.01M923.1 699.3h.01M927.1 738.0h.01M936.1 702.8h.01M915.2 709.0h.01M933.5 775.9h.01M938.2 783.0h.01M954.5 691.4h.01M947.2 768.3h.01M935.2 709.6h.01M911.7 742.5h.01M940.6 755.2h.01M925.2 778.5h.01M907.4 702.2h.01M917.8 781.7h.01M921.6 761.5h.01M934.8 776.8h.01M947.1 686.9h.01M942.2 750.0h.01M927.1 774.3h.01M936.2 711.1h.01M919.8 742.9h.01M916.0 748.1h.01M941.1 701.6h.01M930.7 770.4h.01M913.0 723.0h.01M909.6 732.8h.01M929.4 713.1h.01M927.0 776.0h.01M914.7 747.0h.01M937.5 765.0h.01M898.4 590.9h.01M912.2 590.0h.01M929.0 640.8h.01M910.0 689.9h.01M968.1 784.0h.01M947.9 785.8h.01M235.9 548.7h.01M234.0 508.3h.01M219.3 521.7h.01M222.8 518.2h.01M182.2 555.5h.01M163.7 534.5h.01M181.7 564.0h.01M240.2 536.3h.01M217.6 572.1h.01M185.0 510.7h.01M159.3 536.3h.01M232.9 542.5h.01M179.4 540.4h.01M184.1 515.9h.01M211.7 536.4h.01M229.2 549.8h.01M210.4 552.8h.01M202.9 525.9h.01M192.6 533.1h.01M174.0 549.6h.01M214.3 512.2h.01M157.8 558.6h.01M213.3 510.0h.01M159.0 556.9h.01M225.3 574.7h.01M208.7 533.1h.01M170.2 544.6h.01M219.7 578.4h.01M235.7 551.7h.01M200.9 524.1h.01M187.2 543.7h.01M168.9 548.8h.01M237.1 532.4h.01M158.7 556.9h.01M202.1 512.0h.01M200.5 561.0h.01M186.7 552.2h.01M173.5 540.4h.01M229.1 514.9h.01M229.8 512.6h.01M174.9 554.7h.01M174.1 534.7h.01M182.3 550.7h.01M214.7 528.2h.01M239.7 540.7h.01M201.0 540.5h.01M197.4 532.5h.01M162.5 564.9h.01M179.4 529.5h.01M182.9 568.3h.01M185.3 556.6h.01M214.2 526.8h.01M185.9 558.4h.01M223.6 544.9h.01M205.8 535.2h.01M199.0 565.8h.01M233.6 543.6h.01M204.8 562.8h.01M215.4 514.3h.01M168.1 563.1h.01M215.8 534.5h.01M232.0 542.5h.01M206.1 561.7h.01M197.4 508.3h.01M209.2 563.6h.01M213.7 545.5h.01M238.7 534.3h.01M212.9 543.8h.01M225.4 555.5h.01M193.8 508.9h.01M204.5 541.7h.01M223.6 554.8h.01M202.7 513.2h.01M183.8 508.9h.01M193.1 548.7h.01M170.6 540.7h.01M214.8 525.0h.01M208.1 567.3h.01M188.1 566.9h.01M228.1 525.4h.01M181.7 515.7h.01M168.9 565.3h.01M182.6 551.7h.01M206.1 506.2h.01M179.5 529.7h.01M182.2 544.9h.01M160.0 528.3h.01M217.6 547.3h.01M183.6 527.9h.01M180.4 542.7h.01M230.6 518.7h.01M194.7 531.2h.01M216.1 510.6h.01M171.2 561.5h.01M222.2 572.6h.01M191.9 548.7h.01M236.2 543.6h.01M189.8 508.1h.01M196.9 538.6h.01M192.9 515.2h.01M166.7 542.4h.01M202.8 540.8h.01M223.7 508.0h.01M161.7 539.9h.01M224.2 514.3h.01M173.0 521.3h.01M226.5 574.9h.01M206.4 556.9h.01M165.5 528.9h.01M173.3 526.0h.01M157.5 534.8h.01M207.0 569.3h.01M214.6 569.0h.01M188.1 513.5h.01M229.0 532.2h.01M191.4 570.0h.01M228.9 542.0h.01M222.0 533.4h.01M170.8 546.0h.01M205.8 516.9h.01M179.0 535.9h.01M173.6 532.7h.01M165.1 561.9h.01M222.7 552.8h.01M210.0 508.2h.01M161.1 536.0h.01M216.1 535.2h.01M202.2 506.5h.01M156.6 533.6h.01M177.0 515.1h.01M183.1 517.3h.01M197.0 563.0h.01M176.6 529.3h.01M186.7 524.5h.01M199.6 545.0h.01M229.1 540.9h.01M204.2 537.0h.01M182.1 511.7h.01M160.7 541.1h.01M182.9 512.4h.01M169.8 531.4h.01M199.3 516.8h.01M225.8 555.2h.01M212.8 562.6h.01M220.8 548.1h.01M218.6 550.0h.01M229.2 556.3h.01M184.3 528.1h.01M165.7 549.4h.01M177.2 542.4h.01M182.7 535.7h.01M179.0 518.9h.01M218.3 572.4h.01M217.9 521.8h.01M186.7 567.9h.01M197.0 542.1h.01M164.5 526.9h.01M164.9 542.9h.01M205.0 534.2h.01M195.9 560.2h.01M215.5 555.0h.01M152.1 551.5h.01M184.5 536.5h.01M161.5 555.0h.01M204.2 522.8h.01M211.5 558.9h.01M164.3 560.4h.01M201.1 511.0h.01M209.7 521.0h.01M230.3 554.3h.01M234.6 533.2h.01M206.2 565.9h.01M182.9 566.1h.01M203.2 549.8h.01M190.5 552.7h.01M216.0 511.3h.01M216.6 540.8h.01M194.0 572.7h.01M200.3 515.8h.01M191.3 525.1h.01M193.4 552.6h.01M220.3 563.6h.01M205.6 560.0h.01M213.4 531.9h.01M171.5 564.9h.01M240.9 547.3h.01M186.8 535.6h.01M220.3 530.9h.01M222.8 554.0h.01M217.4 535.3h.01M214.5 571.5h.01M219.7 560.1h.01M226.8 548.4h.01M233.4 532.3h.01M216.4 527.7h.01M236.7 544.8h.01M162.5 558.3h.01M164.7 552.1h.01M176.1 564.3h.01M207.7 532.6h.01M260.5 490.7h.01M248.8 494.2h.01M255.2 501.2h.01M241.0 519.2h.01M250.0 526.7h.01M254.5 527.5h.01M257.5 532.0h.01M260.5 530.5h.01M271.0 530.5h.01M276.2 530.2h.01M270.2 536.5h.01M247.0 547.0h.01M245.5 541.7h.01M240.2 572.8h.01M396.1 844.2h.01M360.2 803.1h.01M362.6 806.2h.01M381.9 820.4h.01M329.5 771.2h.01M352.4 726.0h.01M355.6 837.9h.01M362.8 825.2h.01M380.2 827.9h.01M374.9 736.6h.01M349.9 832.2h.01M359.8 797.4h.01M362.4 737.0h.01M356.2 788.3h.01M344.3 846.4h.01M364.1 820.4h.01M369.1 744.2h.01M311.8 807.0h.01M395.1 859.0h.01M309.8 858.7h.01M385.0 773.9h.01M387.0 816.0h.01M368.9 856.2h.01M332.2 861.4h.01M348.3 782.7h.01M386.7 792.4h.01M393.9 817.0h.01M335.6 809.6h.01M367.0 849.9h.01M326.3 856.4h.01M370.2 723.8h.01M400.3 790.6h.01M378.2 759.4h.01M326.5 856.3h.01M370.3 740.9h.01M337.7 729.1h.01M376.0 766.6h.01M324.4 756.7h.01M356.5 778.7h.01M326.4 850.5h.01M312.8 853.5h.01M378.7 759.0h.01M334.3 722.2h.01M370.8 783.1h.01M329.0 769.5h.01M369.2 723.7h.01M331.5 833.9h.01M358.0 762.5h.01M396.1 774.6h.01M310.8 861.1h.01M321.5 831.1h.01M376.6 780.7h.01M357.8 734.1h.01M308.2 815.8h.01M395.2 791.6h.01M390.2 810.2h.01M365.3 754.7h.01M364.2 818.1h.01M354.9 816.5h.01M333.7 724.6h.01M367.6 837.9h.01M396.0 780.8h.01M355.1 725.8h.01M389.0 775.2h.01M391.2 835.4h.01M339.4 820.2h.01M349.8 739.6h.01M290.8 836.5h.01M342.5 778.7h.01M372.6 844.1h.01M293.4 848.6h.01M340.0 848.8h.01M354.0 807.2h.01M382.7 852.6h.01M326.3 842.3h.01M355.5 800.4h.01M366.7 804.8h.01M370.2 863.2h.01M307.3 845.7h.01M345.1 843.7h.01M364.3 812.0h.01M371.8 723.5h.01M372.9 771.5h.01M356.0 723.7h.01M386.0 778.3h.01M321.2 839.1h.01M319.8 778.1h.01M306.1 816.0h.01M306.0 799.5h.01M390.8 795.6h.01M340.0 788.6h.01M396.0 768.0h.01M377.8 783.2h.01M352.8 765.5h.01M294.4 832.0h.01M388.2 733.1h.01M317.8 806.8h.01M343.7 831.7h.01M374.5 798.1h.01M343.9 759.8h.01M356.1 807.5h.01M372.3 750.0h.01M335.5 718.5h.01M370.9 816.8h.01M350.5 793.1h.01M399.3 819.1h.01M322.9 827.3h.01M378.8 831.9h.01M314.7 786.0h.01M385.1 793.8h.01M353.3 826.9h.01M297.2 847.1h.01M381.5 748.7h.01M355.4 751.7h.01M355.2 809.9h.01M367.8 729.7h.01M334.5 737.1h.01M342.3 837.3h.01M345.0 771.4h.01M359.0 732.7h.01M330.9 856.7h.01M330.2 847.8h.01M387.4 809.8h.01M372.0 806.5h.01M369.2 757.3h.01M327.7 748.9h.01M343.6 817.7h.01M369.0 810.1h.01M373.3 724.9h.01M327.2 816.2h.01M312.8 813.0h.01M394.9 829.3h.01M314.6 775.3h.01M386.6 767.1h.01M357.5 758.6h.01M374.5 854.8h.01M317.2 777.7h.01M394.1 859.2h.01M363.2 793.6h.01M352.3 781.6h.01M366.9 767.1h.01M340.9 730.3h.01M336.1 748.1h.01M366.2 731.2h.01M326.4 738.0h.01M377.3 790.7h.01M292.5 846.0h.01M381.3 778.7h.01M386.6 809.3h.01M391.4 785.6h.01M388.5 757.8h.01M393.3 796.3h.01M325.4 838.1h.01M359.0 761.7h.01M359.7 718.2h.01M323.8 839.5h.01M371.2 738.3h.01M374.1 811.6h.01M390.5 783.2h.01M372.1 723.5h.01M313.1 816.0h.01M340.0 788.8h.01M389.5 850.6h.01M376.6 799.5h.01M343.5 850.1h.01M332.2 735.3h.01M335.9 815.5h.01M314.4 783.8h.01M384.8 767.2h.01M374.9 726.7h.01M392.1 828.5h.01M360.4 814.9h.01M329.0 791.7h.01M400.5 784.4h.01M304.9 805.7h.01M380.8 841.3h.01M300.7 830.7h.01M331.5 830.3h.01M391.6 823.1h.01M385.8 791.5h.01M376.6 839.3h.01M327.3 758.7h.01M343.6 800.2h.01M311.0 782.6h.01M318.0 796.6h.01M335.3 729.4h.01M328.6 778.5h.01M297.7 837.9h.01M378.0 837.9h.01M309.7 857.0h.01M303.1 802.4h.01M367.1 786.3h.01M345.8 786.9h.01M317.7 777.5h.01M387.0 802.3h.01M340.8 756.7h.01M392.6 826.2h.01M312.6 822.0h.01M352.3 737.0h.01M357.2 856.6h.01M388.1 816.9h.01M342.4 716.2h.01M357.9 847.9h.01M398.6 851.1h.01M332.0 767.9h.01M366.3 838.6h.01M329.8 775.7h.01M342.5 749.8h.01M349.3 776.2h.01M305.8 810.3h.01M359.3 806.6h.01M365.1 858.2h.01M328.2 738.8h.01M322.2 775.8h.01M343.9 852.3h.01M335.0 773.5h.01M388.9 846.9h.01M357.4 847.0h.01M321.4 771.2h.01M363.1 846.3h.01M330.5 820.9h.01M342.2 802.5h.01M391.9 825.6h.01M331.4 807.3h.01M396.4 788.2h.01M365.7 768.2h.01M354.8 827.0h.01M345.3 837.9h.01M311.5 828.6h.01M297.9 812.0h.01M320.5 778.4h.01M314.1 834.0h.01M340.4 779.0h.01M331.7 823.0h.01M328.6 859.8h.01M362.1 819.1h.01M330.1 741.6h.01M361.3 806.3h.01M296.6 819.2h.01M375.5 768.2h.01M326.0 823.3h.01M348.8 811.8h.01M344.7 808.1h.01M364.1 844.8h.01M399.3 853.3h.01M394.1 792.8h.01M359.4 845.9h.01M337.2 781.6h.01M327.7 829.9h.01M369.4 837.1h.01M370.1 725.9h.01M369.5 756.3h.01M349.6 773.6h.01M370.1 862.2h.01M357.0 761.6h.01M364.2 729.4h.01M337.3 854.2h.01M313.9 849.4h.01M389.6 846.4h.01M390.2 754.2h.01M372.1 760.8h.01M324.8 778.7h.01M398.6 809.1h.01M381.6 743.1h.01M350.0 803.7h.01M355.7 777.1h.01M324.6 761.3h.01M318.7 820.2h.01M304.9 830.2h.01M361.0 803.9h.01M380.2 858.8h.01M313.7 784.7h.01M387.4 814.2h.01M315.8 795.8h.01M387.0 766.8h.01M310.1 793.4h.01M379.7 778.2h.01M331.9 786.7h.01M333.2 824.4h.01M384.9 776.0h.01M341.8 730.0h.01M369.6 823.8h.01M389.9 734.2h.01M359.8 732.2h.01M343.3 838.9h.01M331.7 803.9h.01M370.9 824.9h.01M325.4 794.3h.01M350.6 732.5h.01M324.8 791.6h.01M372.9 858.2h.01M323.2 813.5h.01M298.9 853.6h.01M323.1 802.9h.01M400.0 856.9h.01M308.5 843.6h.01M384.1 791.5h.01M361.5 754.4h.01M319.8 835.9h.01M385.6 758.8h.01M348.4 852.4h.01M347.2 755.0h.01M350.0 805.5h.01M394.3 827.5h.01M385.0 746.6h.01M303.6 824.8h.01M331.4 845.2h.01M353.0 757.3h.01M352.9 809.0h.01M368.2 835.9h.01M333.5 793.3h.01M316.0 862.3h.01M354.9 851.1h.01M360.5 854.5h.01M384.6 740.0h.01M336.8 846.4h.01M377.7 825.0h.01M325.2 794.9h.01M392.8 791.9h.01M383.3 831.5h.01M348.9 767.9h.01M354.0 845.5h.01M392.1 818.9h.01M372.5 837.5h.01M378.9 847.7h.01M365.8 858.3h.01M388.0 831.7h.01M379.2 764.8h.01M335.3 768.4h.01M334.8 765.2h.01M389.8 831.4h.01M371.0 811.3h.01M375.2 756.7h.01M324.6 837.5h.01M339.8 729.8h.01M342.2 717.7h.01M337.1 802.8h.01M323.7 740.9h.01M400.0 855.9h.01M314.5 797.2h.01M335.3 791.3h.01M349.6 771.5h.01M385.6 768.8h.01M332.6 750.8h.01M344.8 841.2h.01M354.0 728.0h.01M344.5 801.1h.01M333.4 747.4h.01M306.1 798.6h.01M320.2 860.0h.01M342.5 847.7h.01M323.2 736.1h.01M322.9 770.9h.01M360.0 762.7h.01M352.9 787.6h.01M332.5 809.6h.01M308.3 842.6h.01M363.5 782.3h.01M318.3 843.3h.01M375.4 796.9h.01M379.6 820.0h.01M365.8 753.8h.01M350.6 741.2h.01M359.8 782.9h.01M344.5 820.7h.01M366.4 810.8h.01M373.2 745.9h.01M339.7 792.6h.01M338.4 766.7h.01M308.2 825.0h.01M337.2 767.0h.01M347.4 806.3h.01M367.5 827.3h.01M311.3 813.1h.01M357.8 742.3h.01M394.5 832.4h.01M364.9 841.0h.01M376.8 732.7h.01M369.1 840.3h.01M336.7 849.9h.01M395.3 765.9h.01M390.3 804.5h.01M316.7 862.9h.01M393.5 846.5h.01M332.1 831.5h.01M376.1 837.1h.01M329.4 774.6h.01M369.3 762.3h.01M371.8 723.1h.01M401.1 795.2h.01M346.8 755.9h.01M329.3 780.5h.01M303.4 853.2h.01M292.9 816.9h.01M303.2 815.4h.01M377.4 785.9h.01M326.4 780.4h.01M384.0 811.7h.01M399.3 818.1h.01M376.8 807.1h.01M373.8 799.3h.01M392.6 809.4h.01M334.9 742.0h.01M388.4 770.7h.01M384.3 818.0h.01M384.8 782.9h.01M373.3 755.0h.01M368.6 786.4h.01M351.0 772.3h.01M326.2 863.6h.01M309.0 795.9h.01M368.1 725.8h.01M329.7 841.7h.01M326.3 762.1h.01M318.1 789.9h.01M340.6 759.7h.01M332.5 754.1h.01M353.8 855.8h.01M387.4 821.9h.01M355.1 781.4h.01M322.6 762.3h.01M342.1 779.2h.01M327.5 829.7h.01M378.5 741.6h.01M366.2 751.8h.01M296.4 849.8h.01M320.4 760.0h.01M359.7 760.7h.01M311.8 847.4h.01M394.2 777.1h.01M362.8 735.4h.01M357.0 773.1h.01M351.5 828.6h.01M378.3 747.5h.01M310.1 781.8h.01M369.2 776.0h.01M372.8 836.9h.01M317.0 789.0h.01M376.1 800.7h.01M329.5 743.6h.01M370.2 813.3h.01M359.2 719.8h.01M348.4 836.1h.01M329.0 730.6h.01M335.3 786.3h.01M328.9 843.9h.01M344.3 793.4h.01M370.3 816.0h.01M337.2 811.8h.01M333.3 736.9h.01M351.2 802.8h.01M342.8 838.6h.01M344.6 840.5h.01M372.9 786.9h.01M347.4 728.6h.01M364.2 821.2h.01M362.5 793.7h.01M336.1 764.2h.01M372.7 838.3h.01M380.7 858.4h.01M341.9 751.5h.01M368.4 841.3h.01M378.4 750.8h.01M380.9 851.8h.01M397.9 795.0h.01M370.4 755.3h.01M327.3 788.6h.01M330.2 836.3h.01M357.9 810.5h.01M333.4 770.7h.01M322.0 841.1h.01M388.3 798.5h.01M393.3 763.9h.01M376.4 799.2h.01M338.6 777.4h.01M375.4 796.1h.01M362.9 774.2h.01M294.8 814.3h.01M393.4 825.1h.01M364.4 764.0h.01M315.5 852.8h.01M364.9 804.0h.01M328.6 804.5h.01M348.4 833.6h.01M365.4 849.4h.01M383.9 860.3h.01M341.5 728.1h.01M381.7 805.8h.01M367.2 861.9h.01M371.0 838.6h.01M318.7 852.6h.01M394.5 798.1h.01M343.0 757.5h.01M385.9 816.1h.01M309.4 801.5h.01M381.2 768.7h.01M346.3 745.4h.01M357.1 739.0h.01M377.9 805.5h.01M357.4 792.3h.01M321.0 814.6h.01M351.9 826.9h.01M325.5 850.9h.01M367.7 734.9h.01M323.5 787.9h.01M369.7 732.3h.01M289.4 828.3h.01M354.4 790.2h.01M355.9 840.0h.01M341.6 813.9h.01M397.8 833.4h.01M347.8 729.8h.01M368.2 748.1h.01M349.1 732.3h.01M337.2 854.8h.01M320.9 858.2h.01M350.4 735.8h.01M361.6 814.2h.01M334.6 757.8h.01M380.5 786.6h.01M394.6 766.4h.01M324.3 823.5h.01M331.6 772.2h.01M346.9 848.0h.01M361.4 835.7h.01M360.7 851.3h.01M400.0 799.5h.01M348.1 836.6h.01M374.6 775.0h.01M320.2 839.4h.01M370.7 845.8h.01M370.9 787.0h.01M300.1 819.5h.01M317.7 815.3h.01M312.1 852.4h.01M297.6 810.8h.01M342.3 837.8h.01M328.4 835.0h.01M328.2 765.2h.01M369.5 757.3h.01M362.4 776.5h.01M351.4 771.4h.01M384.3 742.8h.01M315.9 823.0h.01M380.1 849.0h.01M392.3 816.8h.01M331.9 750.7h.01M293.2 830.2h.01M369.2 731.8h.01M346.7 737.0h.01M312.4 858.5h.01M363.8 858.8h.01M345.0 806.0h.01M399.5 799.6h.01M321.1 789.7h.01M388.2 797.1h.01M315.6 767.0h.01M396.2 822.2h.01M318.0 809.7h.01M375.9 727.7h.01M326.2 841.5h.01M351.2 795.9h.01M360.2 786.9h.01M381.0 779.1h.01M341.8 826.3h.01M348.7 767.7h.01M361.4 780.3h.01M375.8 758.1h.01M327.0 748.2h.01M376.1 768.5h.01M376.0 734.6h.01M348.5 781.8h.01M365.6 784.5h.01M320.5 798.7h.01M368.0 800.3h.01M307.5 822.5h.01M337.5 771.6h.01M366.1 858.6h.01M371.7 850.6h.01M335.6 775.7h.01M363.4 752.2h.01M399.0 807.7h.01M383.7 786.0h.01M320.6 807.5h.01M348.8 750.6h.01M338.1 779.4h.01M329.6 736.7h.01M324.6 830.5h.01M397.7 838.5h.01M340.1 848.6h.01M318.7 797.5h.01M334.5 791.8h.01M391.1 759.1h.01M350.5 739.0h.01M342.1 854.4h.01M333.0 738.4h.01M334.8 802.7h.01M392.9 872.0h.01M410.3 807.0h.01M407.6 813.0h.01M406.5 816.3h.01M402.2 819.5h.01M410.8 819.0h.01M401.6 827.1h.01M414.6 828.4h.01M421.1 825.5h.01M426.5 820.6h.01M430.9 825.5h.01M433.6 829.3h.01M436.8 829.3h.01M434.5 832.0h.01M442.8 833.0h.01M447.7 836.3h.01M411.4 834.7h.01M404.9 837.9h.01M422.8 840.1h.01M419.5 840.6h.01M404.1 845.3h.01M400.0 850.4h.01M419.5 851.1h.01M420.9 856.3h.01M403.8 860.3h.01M422.8 864.5h.01M434.1 861.2h.01M433.8 868.0h.01M439.0 868.8h.01M442.8 867.7h.01M443.3 864.8h.01M452.3 863.9h.01M438.5 853.1h.01M440.6 855.8h.01M441.7 859.0h.01M435.2 846.0h.01M443.9 846.0h.01M459.6 840.6h.01M465.0 845.5h.01M469.3 845.0h.01M472.0 847.7h.01M468.3 855.8h.01M454.2 855.3h.01M458.5 855.8h.01M450.9 857.4h.01M475.8 859.6h.01M483.4 861.2h.01M479.6 865.0h.01M485.6 865.0h.01M479.1 873.7h.01M483.4 877.5h.01M490.5 874.8h.01M492.1 871.5h.01M495.9 883.4h.01M495.3 886.1h.01M502.4 883.4h.01M496.4 907.8h.01M508.1 909.6h.01M475.8 869.3h.01M502.9 875.8h.01M498.0 880.2h.01M462.8 854.2h.01M465.0 850.9h.01M460.7 847.7h.01M471.5 860.7h.01M481.3 868.3h.01M488.8 869.3h.01M497.5 871.5h.01M506.2 878.0h.01M510.5 880.2h.01M606.4 645.6h.01M612.1 645.2h.01M614.6 646.3h.01M622.9 646.5h.01M600.6 651.0h.01M601.9 649.9h.01M611.3 651.9h.01M615.4 649.4h.01M615.7 650.0h.01M624.8 648.0h.01M598.8 650.0h.01M599.9 652.6h.01M603.0 651.9h.01M608.3 650.2h.01M615.8 654.3h.01M617.8 653.4h.01M622.7 654.2h.01M623.8 651.4h.01M595.4 654.4h.01M607.8 655.8h.01M608.9 656.5h.01M612.9 657.3h.01M618.3 654.4h.01M622.3 655.8h.01M626.8 655.8h.01M629.0 654.6h.01M631.0 656.1h.01M643.0 654.2h.01M599.2 658.8h.01M600.6 656.8h.01M609.3 660.8h.01M613.3 658.2h.01M617.8 659.3h.01M618.4 659.6h.01M622.4 661.2h.01M625.1 659.9h.01M631.3 657.2h.01M635.4 660.3h.01M644.1 656.1h.01M645.5 656.7h.01M599.2 664.4h.01M605.2 660.9h.01M608.2 660.8h.01M609.1 662.0h.01M614.6 660.4h.01M618.1 661.7h.01M622.3 661.7h.01M625.8 661.5h.01M631.6 663.4h.01M637.4 663.2h.01M644.3 660.9h.01M651.5 659.6h.01M654.6 663.4h.01M592.8 664.2h.01M600.9 665.5h.01M606.3 664.6h.01M610.1 667.1h.01M611.4 666.8h.01M615.6 664.7h.01M618.0 664.1h.01M623.9 664.8h.01M627.1 665.8h.01M629.8 665.2h.01M632.8 666.2h.01M637.7 665.2h.01M641.0 662.1h.01M646.7 664.9h.01M649.6 666.0h.01M592.5 670.8h.01M595.9 669.0h.01M602.5 668.4h.01M607.6 667.4h.01M611.8 667.5h.01M614.2 669.2h.01M616.6 669.6h.01M623.1 669.8h.01M629.0 670.9h.01M630.7 666.7h.01M640.6 668.6h.01M643.4 668.6h.01M647.3 667.1h.01M594.0 671.5h.01M597.9 671.5h.01M599.7 670.4h.01M605.2 673.0h.01M609.8 672.4h.01M609.9 671.0h.01M616.9 672.6h.01M620.7 673.8h.01M623.0 670.7h.01M628.2 672.1h.01M631.7 671.5h.01M633.8 672.3h.01M642.5 670.7h.01M644.9 671.1h.01M591.9 673.3h.01M595.5 674.2h.01M598.3 675.9h.01M604.1 674.8h.01M603.6 674.7h.01M617.5 675.9h.01M621.9 674.8h.01M623.3 675.4h.01M629.9 674.5h.01M634.9 675.5h.01M638.8 678.2h.01M644.4 677.6h.01M594.6 676.6h.01M603.2 678.7h.01M602.5 678.9h.01M610.0 676.6h.01M611.5 679.1h.01M614.8 676.2h.01M619.9 677.6h.01M629.0 677.7h.01M630.7 676.4h.01M635.8 678.8h.01M637.7 680.6h.01M641.8 679.0h.01M643.5 680.6h.01M650.3 679.1h.01M596.0 681.2h.01M599.5 683.6h.01M602.4 683.3h.01M609.6 682.3h.01M611.1 680.8h.01M615.0 683.5h.01M620.6 683.4h.01M625.7 683.5h.01M628.2 682.4h.01M634.0 683.3h.01M641.0 680.6h.01M646.2 682.0h.01M647.0 680.5h.01M651.0 678.8h.01M653.9 681.8h.01M599.4 683.7h.01M604.8 684.2h.01M606.1 684.2h.01M616.2 686.0h.01M618.7 685.6h.01M622.4 683.7h.01M626.1 685.4h.01M633.0 682.9h.01M634.8 683.1h.01M648.5 684.1h.01M652.7 684.8h.01M658.2 683.5h.01M597.2 686.9h.01M602.2 685.3h.01M608.4 687.3h.01M614.8 688.9h.01M615.0 689.0h.01M624.6 687.7h.01M626.4 688.7h.01M629.5 688.1h.01M633.8 689.1h.01M638.5 686.1h.01M641.8 686.3h.01M647.9 688.0h.01M650.0 687.1h.01M656.7 688.9h.01M659.5 688.4h.01M601.3 691.5h.01M604.6 690.2h.01M613.5 691.9h.01M616.7 688.6h.01M619.5 690.4h.01M625.5 690.7h.01M630.5 691.9h.01M634.7 689.5h.01M637.9 691.5h.01M639.4 688.7h.01M646.6 690.1h.01M648.5 690.7h.01M651.2 692.7h.01M658.2 691.6h.01M660.3 692.6h.01M662.8 690.4h.01M603.4 693.4h.01M606.3 695.1h.01M611.7 693.4h.01M617.9 696.6h.01M619.3 693.9h.01M625.7 692.1h.01M627.5 694.3h.01M630.5 693.5h.01M635.9 694.3h.01M639.7 696.8h.01M643.6 692.4h.01M650.0 693.5h.01M655.5 694.2h.01M663.0 694.8h.01M666.0 694.5h.01M667.6 695.4h.01M603.7 697.6h.01M613.4 695.1h.01M616.4 697.2h.01M618.5 697.6h.01M625.5 696.1h.01M627.6 696.9h.01M629.3 696.7h.01M633.4 697.3h.01M639.1 698.4h.01M642.0 698.4h.01M645.0 697.0h.01M653.6 699.1h.01M655.2 697.2h.01M661.7 697.7h.01M666.7 697.4h.01M606.1 700.6h.01M610.4 700.5h.01M613.1 699.4h.01M619.1 700.7h.01M622.7 700.4h.01M624.9 700.9h.01M630.3 698.3h.01M632.7 700.4h.01M635.8 699.9h.01M640.1 701.1h.01M645.5 700.7h.01M645.3 702.7h.01M651.6 700.7h.01M653.7 701.5h.01M660.3 700.3h.01M662.4 701.4h.01M669.0 702.0h.01M670.2 699.4h.01M611.1 702.4h.01M616.8 704.4h.01M618.6 703.7h.01M622.3 704.6h.01M626.7 703.0h.01M632.2 704.8h.01M635.3 703.5h.01M637.4 704.1h.01M640.9 701.1h.01M649.6 704.3h.01M653.5 704.8h.01M655.5 705.1h.01M660.5 703.1h.01M665.5 703.2h.01M669.3 703.4h.01M671.7 704.6h.01M630.7 707.8h.01M636.2 707.3h.01M641.3 706.4h.01M646.2 707.4h.01M649.2 708.1h.01M650.0 708.0h.01M654.8 708.2h.01M660.1 708.9h.01M662.7 707.3h.01M666.7 707.8h.01M669.9 707.1h.01M673.4 707.1h.01M660.3 707.4h.01M663.7 710.0h.01M671.6 709.9h.01M663.8 714.0h.01M667.2 712.8h.01M670.5 715.5h.01M673.0 712.6h.01M663.8 716.9h.01M667.9 717.0h.01M672.3 716.3h.01M675.9 717.8h.01M674.2 719.8h.01M676.9 719.5h.01M676.7 725.5h.01M675.7 728.6h.01M679.7 732.3h.01M677.1 732.6h.01M673.0 735.0h.01M677.0 739.3h.01M676.4 722.3h.01M677.2 733.9h.01M675.1 727.2h.01M676.6 733.5h.01M676.5 721.3h.01M677.0 731.7h.01M676.7 735.4h.01M675.3 723.7h.01M677.9 729.7h.01M676.8 728.8h.01M593.5 666.0h.01M677.5 740.5h.01M601.9 718.6h.01M592.6 726.2h.01M595.8 724.4h.01M585.0 741.3h.01M578.5 749.6h.01M572.4 757.2h.01M774.0 631.9h.01M544.2 775.0h.01M546.7 765.0h.01M550.4 762.9h.01M556.7 761.2h.01M558.3 765.0h.01M562.5 765.8h.01M565.8 764.2h.01M568.3 762.1h.01M555.0 767.5h.01M550.8 767.5h.01M547.5 770.8h.01M553.3 776.7h.01M555.0 780.0h.01M551.7 782.9h.01M557.5 781.7h.01M563.3 782.5h.01M567.9 782.9h.01M573.3 782.9h.01M576.7 779.2h.01M578.3 775.8h.01M576.7 772.9h.01M580.0 773.3h.01M582.1 773.8h.01M565.0 779.2h.01M561.7 769.2h.01M559.2 768.3h.01M554.2 773.3h.01M550.0 775.0h.01M548.8 766.2h.01M552.9 765.0h.01M545.8 777.5h.01M549.6 781.7h.01M560.0 780.0h.01M571.7 780.8h.01M575.0 775.8h.01M611.2 784.6h.01M710.7 722.7h.01M723.7 721.0h.01M720.0 824.2h.01M722.9 823.8h.01M719.2 828.3h.01M720.8 828.8h.01M713.8 837.9h.01M718.8 839.2h.01M725.4 839.0h.01M707.5 840.0h.01M703.8 841.2h.01M720.8 842.5h.01M695.0 845.4h.01M721.7 846.7h.01M695.0 850.4h.01M697.5 853.3h.01M700.8 854.2h.01M696.2 857.5h.01M705.8 859.3h.01M713.3 854.2h.01M716.7 855.0h.01M720.0 851.7h.01M721.7 849.2h.01M718.3 848.3h.01M715.8 851.7h.01M723.3 854.2h.01M726.7 857.5h.01M725.4 862.1h.01M738.3 843.3h.01M741.7 845.4h.01M736.7 848.3h.01M738.3 851.7h.01M737.5 850.0h.01M740.0 841.7h.01M700.0 850.8h.01M711.7 850.8h.01M715.0 849.2h.01M719.2 845.0h.01M716.7 841.7h.01M704.2 844.2h.01M699.2 850.0h.01M710.0 855.0h.01M705.0 855.8h.01M610.0 840.6h.01M607.5 846.2h.01M610.6 846.9h.01M616.5 866.0h.01M617.8 868.8h.01M620.0 875.6h.01M628.1 876.5h.01M625.0 882.5h.01M628.1 888.1h.01M629.8 890.0h.01M633.1 896.9h.01M636.5 902.5h.01M639.4 910.0h.01M641.2 915.6h.01M638.8 917.5h.01M631.9 916.9h.01M626.9 923.8h.01M625.6 925.0h.01M628.8 922.5h.01M655.6 917.1h.01M664.8 919.0h.01M691.2 929.8h.01M693.8 931.2h.01M696.9 932.2h.01M700.0 933.8h.01M702.5 935.6h.01M704.4 937.5h.01M706.9 936.9h.01M715.0 935.0h.01M721.2 934.4h.01M725.0 936.2h.01M725.6 940.0h.01M711.2 941.9h.01M715.0 945.0h.01M717.5 948.1h.01M713.8 950.0h.01M710.6 939.4h.01M520.0 981.9h.01M527.8 988.1h.01M520.0 990.6h.01M523.8 996.2h.01M523.8 998.8h.01M532.5 996.0h.01M535.6 999.4h.01M535.0 1005.6h.01M528.8 1008.8h.01M531.9 1010.0h.01M516.2 1017.5h.01M519.4 1010.6h.01M435.6 1046.0h.01M436.9 1045.0h.01M496.1 907.8h.01M508.2 909.6h.01M750.5 789.5h.01M750.0 792.0h.01M751.0 788.0h.01M749.5 794.5h.01M745.5 798.0h.01M747.8 801.8h.01M806.5 778.5h.01M807.0 783.5h.01M801.5 787.0h.01M808.0 794.5h.01M465.0 420.6h.01M466.9 423.1h.01M470.0 428.8h.01M468.8 432.5h.01M478.8 435.6h.01M480.0 438.5h.01M473.8 431.2h.01M477.5 433.1h.01M458.8 441.2h.01M462.5 443.8h.01M465.0 446.2h.01M467.5 442.5h.01M470.0 441.9h.01M460.0 450.0h.01M456.2 452.5h.01M462.5 455.0h.01M467.5 457.5h.01M473.8 460.0h.01M473.8 463.1h.01M476.2 450.0h.01M478.8 452.5h.01M486.2 455.0h.01M490.0 451.2h.01M491.9 458.8h.01M495.0 457.5h.01M497.5 451.2h.01M502.5 450.0h.01M505.0 455.0h.01M492.5 486.2h.01M505.0 393.1h.01M506.9 396.9h.01M508.8 400.6h.01M506.2 401.2h.01M510.0 425.0h.01M513.1 428.8h.01M511.9 435.0h.01M597.9 387.9h.01M600.4 390.4h.01M602.1 386.7h.01M603.3 393.3h.01M600.0 395.0h.01M600.8 397.5h.01M603.8 389.2h.01M599.2 385.0h.01M602.5 380.8h.01M594.6 380.8h.01M621.7 403.3h.01M623.3 406.7h.01M395.0 390.8h.01M399.2 395.0h.01M391.7 403.3h.01M395.8 406.7h.01M399.2 402.5h.01M403.3 397.5h.01M407.5 398.3h.01M397.5 387.5h.01"/>
<path stroke="#b296e4" d="M713.1 168.2h.01M705.7 182.3h.01M710.0 193.0h.01M708.7 131.5h.01M694.3 141.4h.01M704.6 159.8h.01M716.9 135.6h.01M668.1 156.8h.01M732.4 158.3h.01M686.6 124.5h.01M727.4 233.3h.01M726.3 225.9h.01M743.1 196.0h.01M487.9 357.8h.01M491.6 347.5h.01M1041.2 698.3h.01M1020.5 755.6h.01M1029.2 756.2h.01M1021.8 636.0h.01M1044.8 696.6h.01M1005.5 753.5h.01M1002.5 718.0h.01M1058.9 668.4h.01M951.9 730.0h.01M1053.9 715.4h.01M983.0 743.9h.01M962.9 755.8h.01M958.5 759.3h.01M1011.0 702.7h.01M992.1 755.4h.01M970.4 766.2h.01M1010.0 630.2h.01M977.9 732.7h.01M1002.7 693.0h.01M982.4 636.2h.01M989.0 644.7h.01M1021.8 639.1h.01M1039.1 678.7h.01M928.8 742.3h.01M163.4 552.5h.01M195.7 553.2h.01M226.9 546.4h.01M160.3 533.1h.01M181.5 537.5h.01M239.3 553.3h.01M175.8 545.2h.01M199.6 537.6h.01M208.7 527.8h.01M194.1 526.1h.01M214.0 508.1h.01M180.3 517.7h.01M212.4 545.1h.01M202.7 538.0h.01M168.4 555.6h.01M182.5 567.0h.01M191.5 569.6h.01M184.8 562.0h.01M201.9 545.1h.01M186.6 550.3h.01M161.6 543.1h.01M199.2 548.3h.01M381.9 804.3h.01M354.4 781.7h.01M355.1 804.3h.01M301.5 848.7h.01M338.0 808.9h.01M293.0 827.8h.01M332.9 734.0h.01M308.8 832.6h.01M328.4 805.7h.01M373.5 772.7h.01M317.0 821.8h.01M365.7 803.7h.01M341.1 812.5h.01M345.5 767.6h.01M382.8 823.7h.01M355.4 846.8h.01M345.8 849.2h.01M344.8 834.1h.01M343.2 854.6h.01M312.8 820.9h.01M316.7 821.6h.01M379.8 814.6h.01M313.1 809.4h.01M308.5 800.8h.01M346.5 789.3h.01M342.3 782.4h.01M346.3 738.1h.01M358.9 807.5h.01M344.0 759.1h.01M350.9 825.6h.01M341.3 766.1h.01M345.8 836.3h.01M368.2 787.8h.01M393.6 829.5h.01M355.3 825.2h.01M334.2 818.9h.01M306.5 812.4h.01M655.3 979.2h.01M657.8 982.9h.01M381.4 841.5h.01M359.5 845.6h.01M395.9 838.9h.01M374.6 848.4h.01M367.7 843.8h.01M376.6 847.0h.01"/>
<path stroke="#ad8ee6" d="M682.2 146.2h.01M679.7 144.3h.01M698.2 181.0h.01M723.9 146.2h.01M703.7 181.0h.01M716.9 148.7h.01M704.8 139.9h.01M732.9 166.1h.01M719.2 140.9h.01M721.5 174.9h.01M691.2 151.0h.01M718.6 150.9h.01M708.3 141.6h.01M691.1 132.5h.01M700.8 132.0h.01M713.6 190.7h.01M681.6 179.4h.01M692.8 154.3h.01M689.8 155.2h.01M684.3 161.9h.01M693.4 158.2h.01M734.7 160.7h.01M695.1 187.9h.01M692.4 126.2h.01M679.4 144.4h.01M674.1 161.3h.01M672.4 143.4h.01M685.5 113.3h.01M684.3 178.6h.01M751.8 207.3h.01M738.2 231.6h.01M730.9 230.3h.01M740.1 204.5h.01M721.3 198.3h.01M873.4 373.1h.01M871.1 373.1h.01M880.1 375.8h.01M877.8 376.4h.01M871.4 374.6h.01M866.2 366.7h.01M491.8 357.1h.01M490.9 347.1h.01M480.7 357.7h.01M1016.4 738.1h.01M1008.4 722.4h.01M991.4 742.4h.01M989.9 703.9h.01M1017.4 725.9h.01M1007.9 678.8h.01M948.4 738.6h.01M1005.0 654.0h.01M1027.7 641.0h.01M986.0 767.6h.01M1037.7 693.5h.01M1050.4 719.7h.01M980.1 766.2h.01M1018.9 638.6h.01M1045.6 657.3h.01M1063.6 658.2h.01M974.0 677.0h.01M989.7 769.0h.01M1028.0 751.6h.01M1003.0 708.4h.01M1050.1 710.9h.01M1018.9 680.9h.01M982.0 655.5h.01M1005.8 662.0h.01M1043.4 673.2h.01M1028.2 737.1h.01M1004.3 760.4h.01M990.4 754.8h.01M950.7 759.2h.01M1025.7 740.1h.01M996.7 630.3h.01M1021.3 725.6h.01M1020.3 665.6h.01M1038.4 656.6h.01M955.2 706.4h.01M1021.5 696.8h.01M997.8 704.7h.01M989.0 646.4h.01M975.6 699.3h.01M1012.4 622.9h.01M973.5 690.5h.01M998.9 653.3h.01M1014.0 739.0h.01M1021.7 652.6h.01M1062.7 694.1h.01M955.2 722.7h.01M969.5 665.3h.01M1000.8 707.8h.01M979.7 629.9h.01M983.3 662.2h.01M1024.3 721.3h.01M1001.4 741.3h.01M978.8 662.8h.01M1057.1 648.1h.01M1015.1 735.5h.01M1012.8 680.6h.01M1030.3 655.0h.01M1043.0 676.6h.01M977.8 752.6h.01M1030.9 668.5h.01M936.5 708.9h.01M915.6 755.0h.01M940.0 722.2h.01M930.4 739.8h.01M935.4 756.6h.01M915.1 755.8h.01M941.1 696.4h.01M936.6 739.2h.01M951.8 775.9h.01M933.2 763.1h.01M207.5 539.1h.01M172.0 548.7h.01M199.2 554.7h.01M174.0 563.6h.01M205.5 543.3h.01M195.0 524.7h.01M202.1 555.2h.01M187.4 556.6h.01M191.6 561.0h.01M180.9 552.3h.01M195.1 516.3h.01M194.4 554.4h.01M191.1 528.4h.01M158.6 544.7h.01M180.0 529.7h.01M212.0 515.7h.01M232.0 548.3h.01M180.4 568.5h.01M181.5 543.3h.01M202.1 512.0h.01M173.2 518.8h.01M226.0 572.2h.01M170.9 538.0h.01M242.7 540.6h.01M195.7 565.3h.01M200.2 539.8h.01M173.8 546.1h.01M176.1 537.8h.01M191.2 550.6h.01M179.2 531.5h.01M211.5 552.7h.01M190.4 535.5h.01M158.5 532.0h.01M163.2 552.4h.01M177.4 534.9h.01M159.6 545.2h.01M155.4 549.9h.01M157.6 543.2h.01M182.6 557.4h.01M163.2 560.8h.01M182.0 540.7h.01M194.2 566.6h.01M189.8 566.5h.01M153.8 554.9h.01M160.7 551.3h.01M162.4 526.9h.01M181.4 529.3h.01M210.9 543.1h.01M162.0 550.2h.01M208.8 552.3h.01M163.6 527.8h.01M181.7 539.1h.01M209.4 545.7h.01M165.6 526.8h.01M195.6 561.4h.01M195.8 560.5h.01M181.1 548.7h.01M192.7 548.5h.01M176.6 549.1h.01M183.5 566.1h.01M337.8 785.0h.01M371.3 764.5h.01M366.7 798.0h.01M397.8 819.9h.01M321.2 769.6h.01M371.5 795.4h.01M290.1 827.2h.01M329.8 793.4h.01M374.9 844.1h.01M331.3 785.6h.01M340.6 780.2h.01M342.2 846.1h.01M309.2 823.6h.01M345.8 802.9h.01M344.3 729.1h.01M321.3 737.4h.01M293.2 843.3h.01M383.5 807.3h.01M364.4 776.8h.01M312.5 776.6h.01M318.7 804.1h.01M389.0 817.4h.01M292.8 823.1h.01M351.6 722.2h.01M316.9 817.5h.01M291.2 834.4h.01M390.0 832.1h.01M360.0 838.7h.01M387.5 795.4h.01M364.3 799.4h.01M325.5 755.0h.01M371.2 825.3h.01M312.1 779.7h.01M338.4 768.8h.01M338.1 720.2h.01M336.4 752.7h.01M305.6 849.0h.01M365.2 791.5h.01M351.7 802.3h.01M330.9 851.1h.01M340.5 746.7h.01M380.9 787.4h.01M356.7 739.2h.01M331.4 788.4h.01M308.7 828.2h.01M358.1 820.4h.01M319.1 833.1h.01M316.0 804.2h.01M335.1 756.7h.01M301.6 834.5h.01M330.1 847.8h.01M303.8 839.5h.01M344.7 825.1h.01M379.2 781.4h.01M363.5 770.4h.01M350.6 752.2h.01M337.2 729.7h.01M349.8 840.0h.01M363.7 814.0h.01M330.1 830.3h.01M313.4 798.0h.01M343.0 855.5h.01M327.0 821.9h.01M348.7 834.3h.01M294.6 849.1h.01M328.0 835.9h.01M287.7 825.8h.01M357.3 793.8h.01M361.2 811.8h.01M318.6 813.7h.01M363.3 786.7h.01M346.3 766.1h.01M369.5 774.3h.01M352.2 795.7h.01M371.1 763.6h.01M320.2 791.1h.01M359.2 774.2h.01M344.0 836.7h.01M300.2 806.1h.01M358.9 765.1h.01M366.0 756.5h.01M372.1 803.5h.01M340.3 752.9h.01M364.2 840.7h.01M353.5 792.7h.01M347.8 838.3h.01M387.1 815.8h.01M386.3 821.2h.01M299.2 810.5h.01M320.2 829.4h.01M338.3 788.6h.01M351.7 762.6h.01M310.1 837.5h.01M322.0 813.9h.01M346.1 760.0h.01M315.4 826.6h.01M354.2 851.7h.01M332.9 720.7h.01M348.0 805.3h.01M353.5 741.9h.01M345.2 836.3h.01M394.9 806.3h.01M382.0 841.3h.01M322.0 790.7h.01M367.6 821.1h.01M402.7 796.5h.01M377.1 771.5h.01M333.9 772.6h.01M376.9 823.7h.01M364.0 824.1h.01M370.5 732.4h.01M383.5 785.5h.01M351.9 802.3h.01M325.4 806.3h.01M370.9 750.0h.01M381.7 729.2h.01M378.7 838.2h.01M318.1 769.9h.01M365.3 817.5h.01M310.0 776.6h.01M309.8 825.0h.01M301.7 842.1h.01M326.1 819.5h.01M659.3 983.1h.01M654.8 979.1h.01M659.5 982.9h.01M404.9 836.2h.01M397.6 819.0h.01M392.5 839.8h.01M362.2 846.2h.01M372.2 844.6h.01M374.4 844.5h.01M405.5 826.8h.01M400.2 825.4h.01M374.4 856.3h.01M374.9 859.0h.01"/>
<path stroke="#a886e8" d="M733.5 171.9h.01M728.9 165.5h.01M686.4 169.8h.01M692.5 171.7h.01M714.6 156.3h.01M675.8 175.1h.01M725.0 154.8h.01M719.0 148.7h.01M715.9 146.2h.01M705.7 147.5h.01M658.7 139.7h.01M663.3 141.4h.01M763.3 213.4h.01M731.1 236.3h.01M742.0 188.4h.01M733.3 221.9h.01M727.1 219.8h.01M731.2 218.8h.01M737.5 236.5h.01M741.7 204.2h.01M743.8 203.1h.01M752.1 191.7h.01M753.1 194.8h.01M760.4 206.2h.01M761.5 216.7h.01M753.8 219.4h.01M775.0 206.7h.01M778.1 208.3h.01M783.3 218.8h.01M781.2 220.8h.01M787.5 214.2h.01M788.5 222.9h.01M771.9 222.3h.01M805.2 215.2h.01M808.3 218.8h.01M814.6 217.7h.01M819.8 228.8h.01M816.7 234.4h.01M818.8 235.4h.01M805.2 228.1h.01M809.4 227.1h.01M768.5 241.1h.01M770.6 267.0h.01M793.7 265.2h.01M809.6 271.6h.01M808.5 280.4h.01M805.6 280.4h.01M816.9 279.8h.01M827.1 279.6h.01M835.5 279.8h.01M832.0 285.6h.01M839.6 286.6h.01M824.8 289.1h.01M838.8 291.2h.01M828.3 298.5h.01M826.2 300.6h.01M774.9 286.8h.01M777.9 294.6h.01M800.3 302.0h.01M783.4 311.9h.01M788.6 310.7h.01M791.6 309.0h.01M794.2 307.2h.01M821.1 310.7h.01M752.5 267.6h.01M742.3 273.7h.01M679.2 195.8h.01M675.0 220.8h.01M673.3 225.0h.01M679.2 230.2h.01M660.4 237.5h.01M662.5 241.7h.01M658.3 246.9h.01M666.7 250.0h.01M677.1 248.3h.01M690.6 234.4h.01M694.8 230.2h.01M702.1 230.2h.01M707.3 237.5h.01M702.1 243.8h.01M716.7 227.1h.01M545.0 221.7h.01M545.8 228.3h.01M570.5 230.0h.01M555.0 232.0h.01M558.3 232.0h.01M540.8 238.3h.01M545.0 239.2h.01M573.3 240.3h.01M577.5 249.2h.01M596.7 244.7h.01M593.3 230.0h.01M610.0 239.2h.01M540.0 317.5h.01M869.8 371.3h.01M875.2 376.5h.01M874.6 374.0h.01M874.6 374.4h.01M874.4 373.3h.01M866.4 366.6h.01M866.8 368.6h.01M864.6 370.1h.01M888.0 368.0h.01M923.3 366.7h.01M917.3 374.9h.01M926.0 374.4h.01M934.7 361.3h.01M925.1 402.0h.01M932.0 395.3h.01M933.3 394.7h.01M934.7 394.0h.01M940.3 389.1h.01M484.3 349.5h.01M494.4 345.6h.01M404.6 387.5h.01M398.3 390.7h.01M408.8 391.2h.01M411.2 392.9h.01M410.0 395.4h.01M417.1 393.3h.01M420.0 394.3h.01M393.3 396.7h.01M389.6 398.8h.01M387.5 401.2h.01M393.8 402.1h.01M401.7 399.6h.01M388.2 406.5h.01M400.0 405.4h.01M396.5 411.5h.01M389.8 412.7h.01M387.1 413.8h.01M400.7 415.4h.01M426.0 415.0h.01M449.6 411.2h.01M392.9 420.0h.01M394.2 422.9h.01M395.0 425.8h.01M403.3 421.7h.01M401.2 423.3h.01M401.2 425.8h.01M397.9 431.7h.01M403.8 433.8h.01M409.2 437.7h.01M417.1 440.8h.01M467.7 425.8h.01M472.5 431.5h.01M476.2 438.3h.01M455.8 449.2h.01M470.0 454.0h.01M479.8 463.3h.01M482.9 461.2h.01M485.0 466.5h.01M497.5 455.0h.01M501.7 456.0h.01M505.8 445.6h.01M509.0 450.8h.01M509.0 460.2h.01M524.6 471.7h.01M511.7 414.4h.01M491.2 480.0h.01M536.0 477.9h.01M439.5 526.5h.01M450.0 522.5h.01M440.0 532.0h.01M440.5 536.5h.01M439.0 540.5h.01M428.0 540.0h.01M458.5 538.3h.01M444.5 548.2h.01M433.5 557.2h.01M432.5 575.0h.01M454.7 578.5h.01M449.0 583.5h.01M450.0 591.0h.01M444.5 591.0h.01M459.3 594.8h.01M464.5 549.5h.01M479.5 554.5h.01M477.5 535.0h.01M470.8 564.5h.01M466.5 572.5h.01M478.0 571.5h.01M484.0 567.0h.01M473.0 588.5h.01M474.0 591.5h.01M479.5 590.0h.01M488.0 537.0h.01M491.0 541.0h.01M494.0 544.0h.01M495.0 537.0h.01M496.0 540.0h.01M498.0 544.0h.01M495.0 547.0h.01M487.5 549.0h.01M490.0 554.0h.01M495.0 553.0h.01M499.0 551.0h.01M502.0 549.0h.01M505.0 540.0h.01M508.0 542.0h.01M506.0 546.0h.01M507.0 549.0h.01M504.5 555.5h.01M491.5 559.5h.01M503.0 562.0h.01M505.5 561.0h.01M508.5 565.5h.01M515.0 555.0h.01M519.0 556.0h.01M516.0 559.0h.01M515.0 564.5h.01M521.0 555.0h.01M495.8 570.0h.01M499.8 582.8h.01M492.5 588.5h.01M483.8 495.0h.01M484.0 501.0h.01M487.0 500.5h.01M486.3 520.5h.01M492.5 519.0h.01M496.5 529.0h.01M497.0 517.0h.01M505.0 514.5h.01M502.0 521.5h.01M506.5 527.5h.01M508.0 519.0h.01M511.0 516.5h.01M511.5 508.5h.01M516.5 502.5h.01M517.2 514.5h.01M523.0 508.8h.01M524.5 523.0h.01M531.0 515.5h.01M534.0 513.0h.01M525.0 492.0h.01M592.1 388.5h.01M594.6 393.8h.01M588.3 399.0h.01M587.5 401.7h.01M595.4 385.4h.01M617.5 400.0h.01M617.1 407.3h.01M616.0 415.6h.01M620.8 419.8h.01M629.6 418.3h.01M633.3 421.9h.01M644.2 433.3h.01M586.2 428.1h.01M595.8 427.1h.01M625.4 436.5h.01M635.8 434.4h.01M595.8 444.8h.01M586.2 451.7h.01M593.8 458.3h.01M596.7 464.2h.01M602.1 467.7h.01M635.8 460.4h.01M657.7 453.8h.01M658.8 447.5h.01M654.2 426.0h.01M665.6 463.5h.01M678.9 429.2h.01M691.3 431.0h.01M679.8 434.3h.01M699.3 436.0h.01M689.3 448.3h.01M706.0 447.7h.01M704.7 451.7h.01M692.3 452.7h.01M683.3 457.0h.01M698.3 455.7h.01M711.0 456.3h.01M711.3 459.0h.01M699.3 458.7h.01M686.7 461.0h.01M692.3 462.0h.01M703.7 461.3h.01M712.7 463.7h.01M704.9 470.1h.01M666.0 463.5h.01M582.7 469.8h.01M577.5 474.6h.01M579.6 472.9h.01M575.8 465.0h.01M552.5 469.8h.01M546.2 475.6h.01M550.4 483.3h.01M543.1 491.2h.01M549.4 508.8h.01M720.8 495.4h.01M762.5 569.2h.01M776.3 567.0h.01M715.3 588.0h.01M915.5 538.0h.01M910.0 543.5h.01M906.5 546.2h.01M911.0 546.0h.01M908.5 547.5h.01M901.2 560.3h.01M901.6 597.2h.01M1003.4 632.4h.01M954.2 746.4h.01M1060.2 666.2h.01M1031.5 662.8h.01M961.3 689.3h.01M1054.5 678.6h.01M968.2 668.8h.01M1048.7 645.6h.01M970.8 675.2h.01M973.6 647.3h.01M1024.3 687.4h.01M983.7 713.6h.01M992.7 767.3h.01M1002.0 619.5h.01M953.1 769.1h.01M1031.7 749.6h.01M1058.7 662.8h.01M1056.9 683.4h.01M1006.7 715.8h.01M1066.1 667.7h.01M969.5 775.5h.01M1060.6 675.8h.01M976.5 712.0h.01M998.9 710.7h.01M1014.6 620.6h.01M944.3 752.2h.01M1006.3 631.6h.01M1018.8 707.6h.01M968.1 730.0h.01M1004.4 708.1h.01M1045.0 634.8h.01M1012.8 682.1h.01M1004.0 753.2h.01M995.5 679.5h.01M951.8 733.0h.01M973.0 732.2h.01M1061.7 648.9h.01M1048.5 648.9h.01M1001.2 677.9h.01M1046.3 699.9h.01M997.9 720.8h.01M927.8 701.1h.01M941.4 685.1h.01M932.9 744.6h.01M926.2 704.7h.01M946.3 692.6h.01M901.5 597.3h.01M928.3 671.6h.01M934.2 681.1h.01M974.1 783.4h.01M216.5 520.6h.01M169.5 526.4h.01M159.3 536.9h.01M216.8 555.6h.01M180.6 524.0h.01M235.9 532.4h.01M237.0 538.7h.01M160.3 565.9h.01M200.9 542.1h.01M184.0 535.9h.01M163.3 556.7h.01M236.7 536.3h.01M202.1 521.4h.01M213.7 560.7h.01M215.4 518.9h.01M153.3 555.0h.01M197.0 544.2h.01M210.2 557.2h.01M182.9 538.1h.01M175.5 542.0h.01M165.9 544.7h.01M162.5 562.3h.01M187.4 546.5h.01M169.8 547.3h.01M182.7 565.4h.01M185.2 535.8h.01M202.0 540.7h.01M247.0 507.7h.01M251.2 501.7h.01M258.2 493.7h.01M257.2 487.7h.01M248.2 517.3h.01M267.2 532.4h.01M282.2 531.2h.01M265.0 538.4h.01M257.5 543.2h.01M250.0 538.7h.01M241.0 550.0h.01M235.0 562.3h.01M244.0 569.0h.01M223.0 573.2h.01M227.5 579.2h.01M348.1 728.9h.01M358.9 785.6h.01M320.3 829.7h.01M348.1 828.0h.01M354.8 730.6h.01M339.3 777.4h.01M354.1 762.9h.01M375.3 781.2h.01M322.8 811.3h.01M332.5 762.2h.01M320.4 796.8h.01M343.9 785.3h.01M367.7 801.5h.01M334.8 802.2h.01M326.9 838.0h.01M335.3 845.0h.01M354.6 739.8h.01M328.8 753.3h.01M373.2 778.5h.01M338.0 740.9h.01M318.5 763.2h.01M366.2 802.0h.01M373.6 785.6h.01M370.1 843.5h.01M362.2 826.7h.01M322.9 793.8h.01M331.1 791.7h.01M304.2 819.4h.01M392.0 821.3h.01M326.0 777.9h.01M351.6 838.5h.01M294.7 825.2h.01M383.6 801.8h.01M325.5 831.9h.01M344.7 746.8h.01M319.0 849.2h.01M366.8 779.5h.01M335.0 723.8h.01M316.8 831.7h.01M353.7 732.9h.01M292.1 841.5h.01M320.7 851.4h.01M380.8 781.4h.01M383.9 841.6h.01M331.1 802.5h.01M358.4 793.4h.01M302.6 822.7h.01M335.8 742.6h.01M327.6 741.8h.01M337.1 763.1h.01M307.6 803.0h.01M346.3 747.0h.01M334.6 853.1h.01M339.9 774.2h.01M359.9 789.6h.01M344.1 753.1h.01M367.7 793.4h.01M342.0 829.8h.01M314.6 798.0h.01M360.7 783.2h.01M345.8 786.0h.01M304.6 853.9h.01M348.3 737.0h.01M335.9 783.5h.01M356.5 732.2h.01M330.8 815.8h.01M367.4 806.0h.01M352.0 819.6h.01M341.8 797.4h.01M390.1 792.7h.01M362.2 721.4h.01M374.6 808.8h.01M348.5 784.7h.01M332.9 862.2h.01M320.7 860.2h.01M385.9 786.0h.01M365.6 829.5h.01M377.0 790.8h.01M321.8 773.2h.01M298.4 851.3h.01M324.3 802.2h.01M303.2 830.2h.01M399.9 792.9h.01M352.1 761.4h.01M333.4 818.6h.01M402.2 805.4h.01M404.3 808.1h.01M402.7 811.9h.01M401.1 814.1h.01M414.6 814.1h.01M417.3 816.3h.01M415.7 820.6h.01M406.5 821.7h.01M424.4 822.2h.01M425.8 825.5h.01M425.5 828.7h.01M410.5 828.5h.01M416.8 834.1h.01M418.4 837.4h.01M401.1 840.6h.01M430.6 838.8h.01M443.6 837.4h.01M440.6 842.8h.01M436.6 846.6h.01M447.7 841.2h.01M450.9 843.9h.01M453.6 843.3h.01M458.5 844.4h.01M456.3 847.7h.01M453.1 849.8h.01M458.5 850.9h.01M462.6 850.1h.01M449.8 852.0h.01M446.6 852.5h.01M448.5 854.2h.01M425.8 860.1h.01M447.9 863.6h.01M462.0 859.4h.01M466.6 859.0h.01M468.3 862.8h.01M474.2 862.6h.01M474.8 866.1h.01M470.4 870.4h.01M473.7 871.0h.01M493.2 867.2h.01M499.5 867.2h.01M500.2 870.4h.01M486.1 870.2h.01M488.3 878.0h.01M496.4 874.8h.01M494.3 877.5h.01M512.1 878.5h.01M508.3 879.1h.01M502.4 880.0h.01M506.0 882.0h.01M631.0 665.0h.01M633.0 668.0h.01M629.0 671.0h.01M637.5 672.0h.01M641.0 676.5h.01M628.2 683.0h.01M640.5 681.8h.01M605.2 684.3h.01M612.5 684.0h.01M613.0 688.5h.01M615.0 691.0h.01M617.5 692.0h.01M645.5 691.0h.01M646.5 660.0h.01M646.8 662.5h.01M647.0 665.0h.01M653.5 659.8h.01M607.2 698.0h.01M605.0 703.8h.01M675.5 711.5h.01M675.3 714.5h.01M673.0 726.8h.01M677.0 730.0h.01M674.5 733.5h.01M596.3 713.6h.01M596.9 719.7h.01M588.3 737.4h.01M610.6 782.9h.01M542.3 769.0h.01M552.1 770.8h.01M565.4 767.9h.01M567.1 769.2h.01M564.6 772.1h.01M562.9 774.2h.01M567.9 775.4h.01M573.3 774.2h.01M569.6 779.2h.01M570.0 777.1h.01M727.9 846.2h.01M734.2 854.6h.01M737.1 855.0h.01M696.7 847.1h.01M699.2 845.8h.01M701.7 847.9h.01M706.7 845.0h.01M709.2 842.9h.01M712.1 841.2h.01M713.3 843.3h.01M716.2 845.4h.01M712.5 847.1h.01M708.3 847.9h.01M706.7 851.2h.01M708.3 852.1h.01M702.5 859.3h.01M712.1 860.4h.01M716.7 860.8h.01M724.2 860.2h.01M619.2 872.2h.01M623.2 880.2h.01M632.2 899.4h.01M635.6 906.9h.01M638.5 905.0h.01M642.5 907.9h.01M630.2 922.2h.01M658.9 916.9h.01M670.0 921.4h.01M712.2 936.9h.01M721.9 937.9h.01M724.4 943.1h.01M519.6 977.2h.01M524.0 981.5h.01M532.9 990.9h.01M521.9 1002.8h.01M525.6 1016.9h.01M518.1 1018.1h.01M531.2 1014.0h.01M533.1 1013.8h.01M437.5 1044.4h.01M805.5 779.0h.01M803.5 781.0h.01M802.0 783.0h.01M803.5 790.0h.01M806.5 790.8h.01M395.3 852.8h.01M376.9 821.6h.01M361.8 826.7h.01M391.2 831.1h.01M400.6 815.4h.01M358.8 840.9h.01"/>
<path stroke="#a37fea" d="M705.6 163.4h.01M671.0 172.1h.01M728.8 164.2h.01M728.5 179.6h.01M719.1 182.2h.01M695.2 138.4h.01M700.0 137.0h.01M737.7 168.0h.01M716.7 151.4h.01M702.9 133.6h.01M716.0 134.3h.01M715.3 136.0h.01M706.7 179.3h.01M689.7 135.2h.01M739.8 213.9h.01M942.5 370.8h.01M939.2 362.7h.01M940.0 361.9h.01M943.4 374.4h.01M952.2 368.5h.01M969.1 373.9h.01M942.6 376.3h.01M960.1 368.6h.01M954.5 374.0h.01M961.9 373.3h.01M489.9 347.3h.01M560.0 523.3h.01M591.1 547.5h.01M446.0 534.0h.01M456.0 561.5h.01M478.0 552.0h.01M519.5 551.0h.01M489.5 508.0h.01M988.8 727.0h.01M988.9 772.2h.01M1008.4 639.6h.01M1015.2 707.5h.01M1008.5 631.9h.01M1049.6 653.0h.01M1010.7 756.3h.01M991.6 649.2h.01M996.3 648.4h.01M1014.4 694.7h.01M962.4 645.5h.01M978.9 708.9h.01M970.0 718.5h.01M976.9 707.8h.01M1027.2 626.6h.01M948.4 752.2h.01M996.1 730.3h.01M1033.6 734.3h.01M981.9 698.6h.01M981.6 720.8h.01M973.8 722.2h.01M989.6 666.3h.01M1028.6 631.5h.01M1005.8 695.2h.01M1023.0 722.2h.01M982.5 672.1h.01M967.6 686.6h.01M964.5 721.7h.01M986.6 643.0h.01M1034.9 643.5h.01M1007.8 625.7h.01M998.3 667.9h.01M1044.3 723.9h.01M995.6 766.8h.01M968.5 695.3h.01M994.0 693.1h.01M966.4 739.6h.01M989.2 761.1h.01M991.5 773.5h.01M991.0 664.7h.01M927.7 705.2h.01M935.3 739.8h.01M940.3 771.8h.01M951.5 782.0h.01M932.8 723.9h.01M923.5 749.6h.01M933.2 721.8h.01M196.1 527.4h.01M174.8 529.2h.01M216.4 570.7h.01M209.4 566.4h.01M160.5 529.7h.01M188.6 533.8h.01M159.8 558.7h.01M197.8 519.9h.01M182.9 533.0h.01M179.4 543.5h.01M161.4 552.3h.01M160.2 540.1h.01M154.4 554.8h.01M195.4 545.8h.01M169.8 536.8h.01M395.8 823.6h.01M346.2 840.6h.01M337.3 826.2h.01M354.0 719.2h.01M322.1 825.6h.01M315.3 847.3h.01M357.3 801.9h.01M370.5 784.3h.01M370.3 783.4h.01M378.2 774.5h.01M391.2 839.1h.01M306.1 832.4h.01M309.6 799.7h.01M356.4 746.8h.01M333.0 730.9h.01M337.3 770.5h.01M346.6 791.5h.01M336.4 751.0h.01M319.2 792.0h.01M371.8 772.4h.01M346.1 839.8h.01M342.0 807.0h.01M347.3 825.3h.01M391.1 804.4h.01M323.1 800.3h.01M386.0 841.5h.01M350.1 794.6h.01M345.1 719.5h.01M352.5 766.5h.01M349.1 739.6h.01M376.4 794.2h.01M342.7 812.8h.01M317.0 792.9h.01M294.3 839.3h.01M341.4 723.8h.01M356.7 751.6h.01M359.2 803.5h.01M347.7 791.7h.01M325.6 791.8h.01M338.5 737.2h.01M325.6 790.0h.01M391.3 810.2h.01M356.3 836.0h.01M372.8 755.6h.01M391.8 853.4h.01M313.5 849.0h.01M313.1 773.2h.01M331.9 730.1h.01M383.3 814.7h.01M649.8 710.0h.01M658.5 712.8h.01M570.4 769.2h.01M635.0 911.2h.01M633.1 918.8h.01M521.5 986.9h.01M388.1 826.9h.01M406.0 823.7h.01M374.8 851.8h.01"/>
<path stroke="#9d77ec" d="M700.8 183.6h.01M690.2 128.4h.01M678.8 164.9h.01M736.7 189.5h.01M738.3 227.5h.01M726.0 217.0h.01M867.4 368.6h.01M948.1 364.7h.01M965.8 367.8h.01M964.8 371.2h.01M947.8 366.2h.01M971.5 372.0h.01M589.7 546.3h.01M592.6 548.6h.01M1032.9 663.8h.01M979.3 650.3h.01M1023.8 688.3h.01M1014.7 741.9h.01M1001.0 740.9h.01M1047.4 645.0h.01M979.0 769.0h.01M984.3 714.7h.01M1010.7 661.1h.01M1023.9 671.7h.01M979.6 683.4h.01M976.0 636.2h.01M1026.5 720.3h.01M1040.2 728.9h.01M1050.9 659.0h.01M988.4 724.0h.01M1003.6 650.2h.01M1030.7 626.9h.01M954.7 686.4h.01M160.9 548.7h.01M232.5 528.5h.01M198.4 562.1h.01M228.6 550.1h.01M218.8 548.8h.01M215.6 535.6h.01M176.5 553.8h.01M200.6 569.9h.01M168.4 556.4h.01M369.6 827.7h.01M342.5 854.2h.01M354.5 832.4h.01M376.8 798.3h.01M340.6 810.1h.01M305.9 804.0h.01M395.2 801.1h.01M312.6 799.3h.01M392.0 833.8h.01M365.0 784.0h.01M372.5 786.3h.01M314.9 788.0h.01M306.4 832.8h.01M306.9 799.9h.01M335.4 852.0h.01M391.5 817.0h.01M322.4 753.3h.01M296.0 818.1h.01M318.6 763.7h.01M388.8 812.7h.01M383.4 755.7h.01M366.0 825.5h.01M334.6 745.1h.01M635.0 672.5h.01M731.7 717.7h.01M735.2 716.6h.01M734.8 716.8h.01M523.1 1010.0h.01M394.1 832.4h.01"/>
<path stroke="#976fee" d="M701.0 168.5h.01M709.4 146.0h.01M737.2 153.7h.01M680.8 171.2h.01M727.5 147.0h.01M700.4 137.1h.01M727.1 234.4h.01M730.2 235.4h.01M725.0 226.0h.01M729.6 228.1h.01M772.9 214.6h.01M778.1 213.5h.01M804.2 238.5h.01M712.5 229.2h.01M546.7 213.3h.01M553.3 217.5h.01M557.5 219.7h.01M540.0 222.5h.01M540.3 225.0h.01M565.0 224.2h.01M542.5 317.0h.01M921.6 376.0h.01M955.1 376.6h.01M958.5 369.8h.01M955.7 378.4h.01M944.3 368.9h.01M947.6 377.8h.01M947.2 362.6h.01M954.6 369.1h.01M931.3 352.7h.01M484.6 357.9h.01M447.5 445.6h.01M454.8 444.6h.01M515.2 446.7h.01M514.2 457.1h.01M504.8 465.4h.01M497.1 464.4h.01M493.3 471.2h.01M489.2 475.8h.01M588.2 545.2h.01M442.5 528.5h.01M445.0 527.5h.01M447.5 530.0h.01M449.5 532.0h.01M452.5 528.0h.01M455.0 525.0h.01M458.0 520.5h.01M458.5 523.0h.01M455.0 530.0h.01M452.0 535.0h.01M432.0 539.5h.01M424.0 544.5h.01M438.5 570.5h.01M436.5 578.0h.01M432.5 582.3h.01M459.0 558.0h.01M459.5 560.0h.01M453.5 567.5h.01M452.8 587.0h.01M447.2 593.8h.01M467.5 551.0h.01M475.5 549.2h.01M468.0 589.5h.01M499.0 536.0h.01M501.0 539.0h.01M517.0 545.0h.01M517.0 550.0h.01M513.0 561.5h.01M496.5 575.0h.01M491.5 525.0h.01M499.5 513.0h.01M526.5 519.0h.01M608.3 383.3h.01M622.3 412.5h.01M642.1 427.5h.01M611.9 431.2h.01M636.9 438.5h.01M616.0 448.3h.01M608.8 453.1h.01M592.1 442.1h.01M596.7 450.0h.01M600.8 460.8h.01M660.8 434.4h.01M658.8 435.4h.01M703.0 455.7h.01M549.4 502.5h.01M755.0 554.7h.01M719.2 592.5h.01M721.7 593.7h.01M724.7 594.2h.01M747.8 599.5h.01M758.3 602.2h.01M761.2 594.7h.01M776.8 589.5h.01M1000.2 649.7h.01M969.8 745.1h.01M976.1 676.1h.01M963.6 636.0h.01M989.3 626.6h.01M962.9 759.4h.01M987.4 688.8h.01M1042.4 690.0h.01M967.5 724.9h.01M1049.9 670.7h.01M992.2 745.6h.01M1034.4 744.6h.01M984.2 703.4h.01M1022.1 675.4h.01M961.3 775.5h.01M1031.8 686.0h.01M1007.9 775.6h.01M945.8 762.8h.01M933.8 745.7h.01M921.3 737.8h.01M928.8 701.4h.01M913.3 698.9h.01M221.4 505.7h.01M207.5 553.0h.01M202.0 557.6h.01M241.7 508.0h.01M256.3 497.2h.01M259.7 538.3h.01M251.2 544.7h.01M339.7 740.9h.01M357.5 769.1h.01M314.4 833.6h.01M350.1 848.4h.01M303.9 823.7h.01M346.6 845.8h.01M331.8 778.9h.01M358.6 780.7h.01M387.8 829.2h.01M343.9 768.1h.01M306.9 850.4h.01M303.0 846.7h.01M295.6 831.9h.01M391.7 819.5h.01M320.0 763.9h.01M293.5 845.5h.01M399.7 790.4h.01M512.7 876.4h.01M624.5 651.5h.01M610.0 657.5h.01M629.0 660.5h.01M603.5 689.5h.01M659.0 686.5h.01M660.0 689.0h.01M603.5 700.3h.01M582.4 746.1h.01M729.7 718.8h.01M730.5 719.0h.01M524.4 1005.6h.01M520.4 1016.0h.01M807.0 795.8h.01M397.0 818.7h.01"/>
<path stroke="#9068ef" d="M710.1 148.7h.01M686.4 151.2h.01M690.0 152.0h.01M706.3 155.3h.01M732.9 165.8h.01M968.2 366.5h.01M946.3 365.3h.01M957.4 376.2h.01M971.5 368.6h.01M949.0 372.3h.01M994.9 716.9h.01M1030.3 651.7h.01M1035.3 745.1h.01M968.8 698.7h.01M965.4 749.7h.01M966.5 773.9h.01M1012.0 658.0h.01M949.1 739.7h.01M978.3 670.6h.01M955.5 705.0h.01M994.5 718.1h.01M907.1 709.5h.01M176.4 548.7h.01M186.5 555.3h.01M223.8 547.1h.01M185.8 509.6h.01M172.9 562.7h.01M338.7 800.2h.01M391.8 808.7h.01M348.7 718.3h.01M321.2 853.8h.01M369.8 783.2h.01M306.5 855.6h.01M361.2 823.9h.01M307.8 844.5h.01M734.5 716.0h.01M385.0 822.4h.01"/>
<path stroke="#8a60f1" d="M729.2 145.4h.01M708.9 119.7h.01M784.8 276.5h.01M798.6 284.2h.01M801.5 289.1h.01M954.5 375.9h.01M948.3 368.3h.01M951.2 375.0h.01M482.9 353.2h.01M400.4 432.1h.01M563.0 525.6h.01M567.4 529.1h.01M577.8 537.1h.01M586.7 544.0h.01M594.1 549.8h.01M427.2 565.0h.01M475.5 583.2h.01M491.8 578.5h.01M489.0 582.0h.01M487.0 506.5h.01M477.0 523.5h.01M684.5 419.5h.01M685.7 422.3h.01M685.3 425.0h.01M694.7 427.3h.01M709.9 438.1h.01M705.2 441.7h.01M693.3 447.2h.01M711.9 445.9h.01M684.5 453.2h.01M689.7 457.0h.01M683.5 464.5h.01M716.2 467.7h.01M997.5 634.4h.01M1038.1 725.3h.01M987.9 675.7h.01M1017.3 762.8h.01M1064.0 673.3h.01M970.0 742.4h.01M1025.2 730.2h.01M965.5 681.1h.01M1011.7 744.0h.01M990.2 726.8h.01M958.7 684.1h.01M946.7 737.2h.01M954.4 757.5h.01M913.9 698.0h.01M227.5 548.1h.01M180.3 565.0h.01M212.0 537.9h.01M180.1 551.6h.01M168.1 527.5h.01M330.8 804.5h.01M384.1 794.6h.01M347.5 787.4h.01M366.6 848.2h.01M337.2 805.2h.01M342.4 843.2h.01M321.0 750.3h.01M389.9 854.3h.01M335.4 772.5h.01M341.4 757.8h.01M456.1 839.5h.01M431.1 859.9h.01M467.7 867.4h.01M495.6 869.1h.01M484.0 872.8h.01M485.0 875.3h.01M510.0 874.8h.01M605.8 646.2h.01M599.5 663.5h.01M608.5 666.2h.01M622.5 662.5h.01M598.5 670.5h.01M618.3 674.0h.01M623.0 673.5h.01M626.5 673.2h.01M632.8 679.5h.01M594.3 682.5h.01M601.8 680.3h.01M627.5 692.5h.01M654.0 689.5h.01M618.5 701.5h.01M624.5 701.0h.01M646.5 703.7h.01M679.0 736.0h.01M557.1 770.4h.01M557.5 774.2h.01M574.6 778.8h.01M737.3 716.5h.01M726.6 721.2h.01M720.2 820.7h.01M744.2 841.0h.01M729.6 854.2h.01M609.1 843.5h.01M612.1 852.9h.01M635.2 914.8h.01M519.6 973.8h.01M518.1 988.5h.01M530.6 1005.0h.01M520.6 1013.1h.01M525.6 1012.2h.01"/>
<path stroke="#8258f3" d="M726.2 144.5h.01M709.8 168.1h.01M716.6 185.1h.01M942.7 374.8h.01M561.5 524.5h.01M565.9 527.9h.01M570.4 531.4h.01M573.4 533.7h.01M576.3 536.0h.01M579.3 538.3h.01M583.7 541.7h.01M585.2 542.9h.01M429.5 570.5h.01M453.0 559.0h.01M482.0 544.0h.01M474.2 576.2h.01M528.0 491.0h.01M685.7 445.3h.01M721.3 448.7h.01M727.9 455.5h.01M721.7 456.0h.01M678.3 461.3h.01M1031.6 646.8h.01M995.7 677.2h.01M982.2 669.6h.01M1056.5 669.8h.01M961.6 746.4h.01M1004.9 692.8h.01M1002.3 759.1h.01M956.5 706.6h.01M920.7 780.5h.01M220.8 505.2h.01M230.8 525.2h.01M239.0 544.8h.01M332.1 734.7h.01M311.5 835.6h.01M349.1 729.5h.01M342.8 742.4h.01M330.8 807.4h.01M346.4 850.3h.01M317.5 802.8h.01M327.0 746.1h.01M438.5 838.7h.01M547.9 780.4h.01M727.2 720.9h.01M718.5 942.8h.01"/>
<path stroke="#7a50f4" d="M731.5 204.2h.01M724.4 232.3h.01M746.5 207.9h.01M744.8 211.9h.01M725.0 231.2h.01M572.0 224.3h.01M573.3 248.0h.01M575.0 248.7h.01M945.0 362.0h.01M490.3 354.1h.01M480.8 454.2h.01M564.5 526.8h.01M568.9 530.2h.01M571.9 532.5h.01M574.8 534.8h.01M580.8 539.4h.01M582.2 540.6h.01M595.6 550.9h.01M484.0 542.5h.01M467.8 583.0h.01M483.3 505.0h.01M490.5 511.0h.01M743.7 548.0h.01M1033.4 693.2h.01M1019.3 706.6h.01M1018.8 653.0h.01M975.0 684.5h.01M988.0 676.8h.01M961.2 736.7h.01M1060.3 705.8h.01M964.6 682.7h.01M1008.3 637.0h.01M916.0 697.1h.01M222.3 542.2h.01M357.8 781.0h.01M363.9 834.4h.01M341.9 781.1h.01M374.4 724.2h.01M345.4 755.0h.01M369.0 778.2h.01M321.6 804.8h.01M332.4 809.2h.01"/>
<path stroke="#7248f6" d="M693.3 156.4h.01M963.7 373.9h.01M1005.6 761.6h.01M1026.1 734.8h.01M935.4 766.4h.01"/>
<path stroke="#693ff7" d="M953.9 375.1h.01M943.6 365.2h.01M947.0 364.9h.01M597.1 552.1h.01M472.0 515.0h.01M470.5 514.5h.01M683.0 442.5h.01M719.7 452.3h.01M723.9 460.7h.01M706.3 464.8h.01M1045.5 653.3h.01M1000.2 654.5h.01M611.8 645.0h.01M602.2 673.2h.01M644.5 675.8h.01M649.0 684.5h.01M548.8 778.3h.01M531.9 1001.9h.01M440.9 1042.2h.01"/>
<path stroke="#5e36f9" d="M966.9 717.3h.01M506.2 873.3h.01"/>
<path stroke="#522dfb" d="M753.1 203.5h.01M824.6 223.5h.01M671.9 249.6h.01M957.7 375.3h.01M514.6 450.8h.01M563.1 525.8h.01M572.5 533.1h.01M597.5 552.5h.01M591.0 418.1h.01M770.5 598.7h.01M244.0 530.8h.01M400.0 781.4h.01M561.0 778.1h.01M791.3 785.8h.01"/>
<path stroke="#4322fc" d="M640.6 243.8h.01"/>
<path stroke="#0000ff" d="M968.4 370.0h.01M452.7 570.8h.01M767.5 594.5h.01M949.2 771.9h.01"/>
</g>
<g stroke="#000" stroke-width="2.67" fill="none">
<path d="M95.5 51V1119.3H1117.8" stroke-linejoin="miter"/>
<line x1="141.25" x2="141.25" y1="1119" y2="1124.3"/><line x1="307.10" x2="307.10" y1="1119" y2="1124.3"/><line x1="472.95" x2="472.95" y1="1119" y2="1124.3"/><line x1="638.80" x2="638.80" y1="1119" y2="1124.3"/><line x1="804.65" x2="804.65" y1="1119" y2="1124.3"/><line x1="970.50" x2="970.50" y1="1119" y2="1124.3"/><line x1="90.3" x2="95.5" y1="276.70" y2="276.70"/><line x1="90.3" x2="95.5" y1="571.25" y2="571.25"/><line x1="90.3" x2="95.5" y1="865.80" y2="865.80"/>
</g>
<g font-size="29px" fill="#000"><text transform="translate(141.25,1147.70) scale(1,1.040)" text-anchor="middle">-15</text><text transform="translate(307.10,1147.70) scale(1,1.040)" text-anchor="middle">-10</text><text transform="translate(472.95,1147.70) scale(1,1.040)" text-anchor="middle">-5</text><text transform="translate(638.80,1147.70) scale(1,1.040)" text-anchor="middle">0</text><text transform="translate(804.65,1147.70) scale(1,1.040)" text-anchor="middle">5</text><text transform="translate(970.50,1147.70) scale(1,1.040)" text-anchor="middle">10</text><text transform="translate(87.80,287.50) scale(1,1.040)" text-anchor="end">10</text><text transform="translate(87.80,582.05) scale(1,1.040)" text-anchor="end">0</text><text transform="translate(87.80,876.60) scale(1,1.040)" text-anchor="end">-10</text></g>
<g font-size="29.7px"><text transform="translate(603.60,1180.50) scale(1,1.050)" text-anchor="middle">umapNC_1</text>
<text transform="translate(33.7,584) rotate(-90) scale(1,1.05)" text-anchor="middle">umapNC_2</text></g>
<text x="606" y="36.4" font-size="34.3px" font-weight="bold" text-anchor="middle">Stxbp3</text>
<rect x="1130.05" y="547.7" width="15.6" height="76.05" fill="url(#lg)"/>
<g stroke="#fff" stroke-width="0.8" stroke-opacity="0.8"><line x1="1130.1" x2="1133.2" y1="560.2" y2="560.2"/><line x1="1142.4" x2="1145.5" y1="560.2" y2="560.2"/><line x1="1130.1" x2="1133.2" y1="581.4" y2="581.4"/><line x1="1142.4" x2="1145.5" y1="581.4" y2="581.4"/><line x1="1130.1" x2="1133.2" y1="602.5" y2="602.5"/><line x1="1142.4" x2="1145.5" y1="602.5" y2="602.5"/></g>
<g font-size="25px" fill="#000"><text transform="translate(1153.00,570.30) scale(1,1.030)" text-anchor="start">1.5</text><text transform="translate(1153.00,591.40) scale(1,1.030)" text-anchor="start">1.0</text><text transform="translate(1153.00,612.50) scale(1,1.030)" text-anchor="start">0.5</text><text transform="translate(1153.00,633.70) scale(1,1.030)" text-anchor="start">0.0</text></g>
</svg>
</body></html>
